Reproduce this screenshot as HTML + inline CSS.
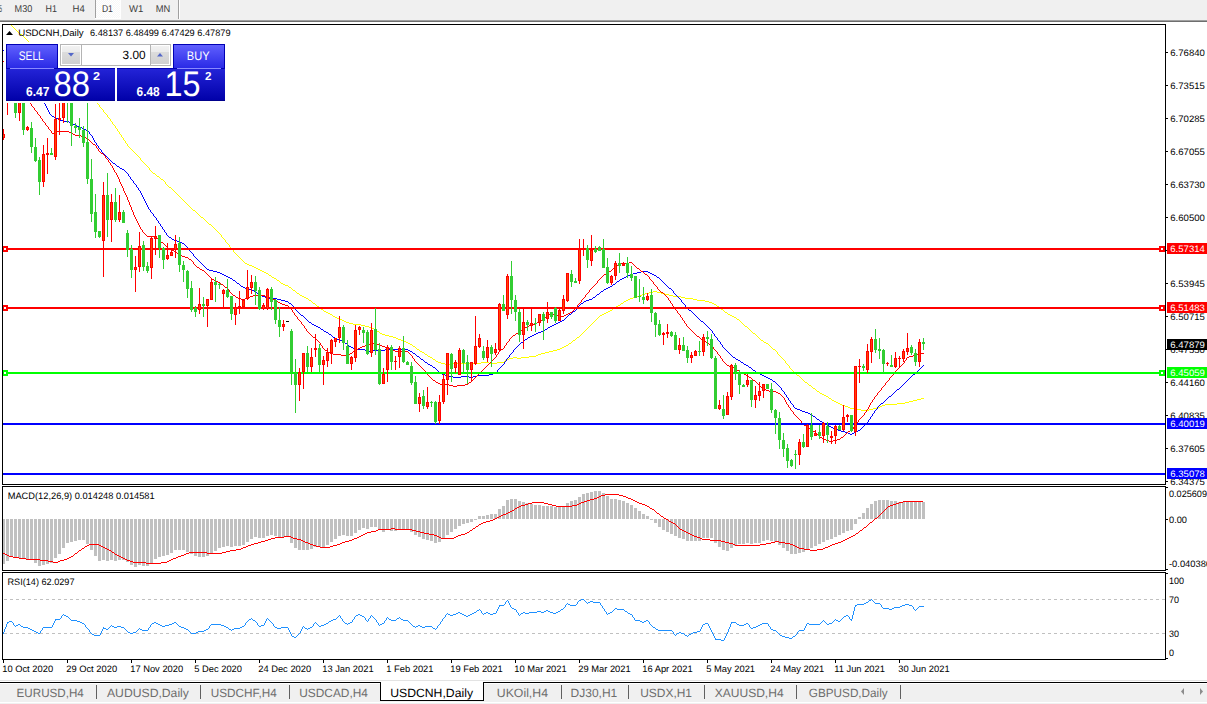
<!DOCTYPE html>
<html><head><meta charset="utf-8"><title>USDCNH,Daily</title>
<style>
html,body{margin:0;padding:0;width:1207px;height:704px;overflow:hidden;background:#fff;}
svg{display:block;font-family:"Liberation Sans",sans-serif;}
text{shape-rendering:auto;text-rendering:geometricPrecision;}
</style></head><body>
<svg width="1207" height="704" viewBox="0 0 1207 704" shape-rendering="crispEdges" font-family="Liberation Sans, sans-serif">
<defs><clipPath id="cm"><rect x="3" y="25" width="1162" height="459"/></clipPath><clipPath id="cmacd"><rect x="3" y="487" width="1162" height="83"/></clipPath><clipPath id="crsi"><rect x="3" y="573" width="1162" height="86"/></clipPath><linearGradient id="gtop" x1="0" y1="0" x2="0" y2="1"><stop offset="0" stop-color="#6262ff"/><stop offset="1" stop-color="#2a2ae6"/></linearGradient><linearGradient id="gbot" x1="0" y1="0" x2="0" y2="1"><stop offset="0" stop-color="#2424d8"/><stop offset="1" stop-color="#0000a8"/></linearGradient><linearGradient id="gbtn" x1="0" y1="0" x2="0" y2="1"><stop offset="0" stop-color="#f2f2f2"/><stop offset="0.33" stop-color="#ebebeb"/><stop offset="0.36" stop-color="#dcdcdc"/><stop offset="1" stop-color="#d0d0d0"/></linearGradient><pattern id="dith" width="2" height="2" patternUnits="userSpaceOnUse"><rect width="2" height="2" fill="#f7f7f7"/><rect width="1" height="1" fill="#ffffff"/><rect x="1" y="1" width="1" height="1" fill="#ffffff"/></pattern></defs>
<rect x="0" y="0" width="1207" height="704" fill="#ffffff"/>
<rect x="0" y="0" width="1207" height="20" fill="#f0f0f0"/>
<rect x="0" y="20" width="1207" height="1" fill="#a0a0a0"/>
<rect x="0" y="21" width="1207" height="1" fill="#6e6e6e"/>
<rect x="96" y="0" width="24" height="18" fill="url(#dith)"/>
<rect x="95" y="0" width="1" height="18" fill="#a0a0a0"/>
<rect x="95" y="18" width="26" height="1" fill="#ffffff"/>
<rect x="120" y="0" width="1" height="18" fill="#ffffff"/>
<rect x="178" y="0" width="1" height="19" fill="#a0a0a0"/>
<rect x="179" y="0" width="1" height="19" fill="#ffffff"/>
<text x="-1.0" y="12" font-size="10" fill="#3c3c3c" textLength="3.0" lengthAdjust="spacingAndGlyphs">5</text>
<text x="14.6" y="12" font-size="10" fill="#3c3c3c" textLength="17.7" lengthAdjust="spacingAndGlyphs">M30</text>
<text x="45.6" y="12" font-size="10" fill="#3c3c3c" textLength="11.4" lengthAdjust="spacingAndGlyphs">H1</text>
<text x="72.6" y="12" font-size="10" fill="#3c3c3c" textLength="12.2" lengthAdjust="spacingAndGlyphs">H4</text>
<text x="101.9" y="12" font-size="10" fill="#3c3c3c" textLength="11.0" lengthAdjust="spacingAndGlyphs">D1</text>
<text x="129.0" y="12" font-size="10" fill="#3c3c3c" textLength="14.3" lengthAdjust="spacingAndGlyphs">W1</text>
<text x="155.8" y="12" font-size="10" fill="#3c3c3c" textLength="14.5" lengthAdjust="spacingAndGlyphs">MN</text>
<path fill="#ffff00" d="M11 25h1v1h-1zM12 26h1v1h-1zM13 27h1v1h-1zM14 28h1v1h-1zM15 29h1v1h-1zM16 30h1v1h-1zM17 31h1v1h-1zM18 32h1v1h-1zM19 33h1v1h-1zM20 34h2v1h-2zM22 35h1v1h-1zM23 36h1v1h-1zM24 37h1v1h-1zM25 38h1v1h-1zM26 39h1v1h-1zM27 40h1v1h-1zM28 41h1v1h-1zM29 42h1v1h-1zM30 43h1v1h-1zM31 44h1v1h-1zM32 45h1v1h-1zM33 46h1v1h-1zM34 47h2v1h-2zM36 48h1v1h-1zM37 49h1v1h-1zM38 50h1v1h-1zM39 51h1v1h-1zM40 52h1v1h-1zM41 53h1v1h-1zM42 54h1v1h-1zM43 55h1v1h-1zM44 56h2v1h-2zM46 57h1v1h-1zM47 58h1v1h-1zM48 59h1v1h-1zM49 60h1v1h-1zM50 61h1v1h-1zM51 62h1v1h-1zM52 63h1v1h-1zM53 64h1v1h-1zM54 65h2v1h-2zM56 66h1v1h-1zM57 67h1v1h-1zM58 68h1v1h-1zM59 69h1v1h-1zM60 70h1v1h-1zM61 71h1v1h-1zM62 72h1v1h-1zM63 73h1v1h-1zM64 74h2v1h-2zM66 75h1v1h-1zM67 76h1v1h-1zM68 77h1v1h-1zM69 78h1v1h-1zM70 79h1v1h-1zM71 80h1v1h-1zM72 81h1v1h-1zM73 82h2v1h-2zM75 83h1v1h-1zM76 84h1v1h-1zM77 85h1v1h-1zM78 86h1v1h-1zM79 87h1v1h-1zM80 88h1v1h-1zM81 89h1v1h-1zM82 90h1v1h-1zM83 91h2v1h-2zM85 92h1v1h-1zM86 93h1v1h-1zM87 94h1v1h-1zM88 95h1v1h-1zM89 96h1v1h-1zM90 97h1v1h-1zM91 98h1v1h-1zM92 99h2v1h-2zM94 100h1v1h-1zM95 101h1v1h-1zM96 102h1v1h-1zM97 103h1v1h-1zM98 104h1v1h-1zM99 105h1v1h-1zM99 106h1v1h-1zM100 107h1v1h-1zM101 108h1v1h-1zM102 109h1v1h-1zM103 110h1v1h-1zM103 111h1v1h-1zM104 112h1v1h-1zM105 113h1v1h-1zM106 114h1v1h-1zM107 115h1v1h-1zM107 116h1v1h-1zM108 117h1v1h-1zM109 118h1v1h-1zM110 119h1v1h-1zM110 120h1v1h-1zM111 121h1v1h-1zM112 122h1v1h-1zM112 123h1v1h-1zM113 124h1v1h-1zM114 125h1v1h-1zM115 126h1v1h-1zM115 127h1v1h-1zM116 128h1v1h-1zM117 129h1v1h-1zM117 130h1v1h-1zM118 131h1v1h-1zM119 132h1v1h-1zM119 133h1v1h-1zM120 134h1v1h-1zM121 135h1v1h-1zM121 136h1v1h-1zM122 137h1v1h-1zM123 138h1v1h-1zM123 139h1v1h-1zM124 140h1v1h-1zM125 141h1v1h-1zM125 142h1v1h-1zM126 143h1v1h-1zM127 144h1v1h-1zM127 145h1v1h-1zM128 146h1v1h-1zM129 147h1v1h-1zM130 148h1v1h-1zM131 149h1v1h-1zM132 150h1v1h-1zM133 151h1v1h-1zM134 152h1v1h-1zM135 153h1v1h-1zM136 154h1v1h-1zM137 155h1v1h-1zM138 156h1v1h-1zM139 157h1v1h-1zM140 158h1v1h-1zM140 159h1v1h-1zM141 160h1v1h-1zM142 161h1v1h-1zM143 162h1v1h-1zM144 163h1v1h-1zM145 164h1v1h-1zM146 165h1v1h-1zM147 166h1v1h-1zM148 167h1v1h-1zM149 168h1v1h-1zM149 169h1v1h-1zM150 170h1v1h-1zM151 171h1v1h-1zM152 172h1v1h-1zM153 173h2v1h-2zM155 174h1v1h-1zM156 175h1v1h-1zM157 176h2v1h-2zM159 177h1v1h-1zM160 178h1v1h-1zM161 179h2v1h-2zM163 180h1v1h-1zM164 181h1v1h-1zM165 182h1v1h-1zM165 183h1v1h-1zM166 184h1v1h-1zM167 185h1v1h-1zM168 186h1v1h-1zM169 187h2v1h-2zM171 188h1v1h-1zM172 189h1v1h-1zM173 190h1v1h-1zM174 191h1v1h-1zM175 192h1v1h-1zM176 193h1v1h-1zM177 194h1v1h-1zM178 195h1v1h-1zM179 196h1v1h-1zM180 197h1v1h-1zM181 198h1v1h-1zM182 199h1v1h-1zM183 200h1v1h-1zM184 201h1v1h-1zM185 202h1v1h-1zM186 203h1v1h-1zM187 204h1v1h-1zM188 205h1v1h-1zM189 206h1v1h-1zM190 207h1v1h-1zM191 208h1v1h-1zM192 209h1v1h-1zM193 210h2v1h-2zM195 211h1v1h-1zM196 212h1v1h-1zM197 213h1v1h-1zM198 214h1v1h-1zM199 215h1v1h-1zM200 216h1v1h-1zM201 217h2v1h-2zM203 218h1v1h-1zM204 219h1v1h-1zM205 220h1v1h-1zM206 221h1v1h-1zM207 222h1v1h-1zM208 223h1v1h-1zM209 224h2v1h-2zM211 225h1v1h-1zM212 226h1v1h-1zM213 227h1v1h-1zM214 228h1v1h-1zM215 229h1v1h-1zM216 230h1v1h-1zM217 231h1v1h-1zM218 232h1v1h-1zM219 233h1v1h-1zM220 234h1v1h-1zM221 235h1v1h-1zM221 236h1v1h-1zM222 237h1v1h-1zM223 238h1v1h-1zM224 239h1v1h-1zM225 240h1v1h-1zM225 241h1v1h-1zM226 242h1v1h-1zM227 243h1v1h-1zM228 244h1v1h-1zM229 245h1v1h-1zM229 246h1v1h-1zM230 247h1v1h-1zM231 248h1v1h-1zM232 249h1v1h-1zM233 250h1v1h-1zM233 251h1v1h-1zM234 252h1v1h-1zM235 253h1v1h-1zM236 254h1v1h-1zM237 255h1v1h-1zM238 256h1v1h-1zM239 257h1v1h-1zM240 258h1v1h-1zM241 259h1v1h-1zM242 260h1v1h-1zM243 261h1v1h-1zM244 262h1v1h-1zM245 263h2v1h-2zM247 264h2v1h-2zM249 265h3v1h-3zM252 266h2v1h-2zM254 267h2v1h-2zM256 268h2v1h-2zM258 269h2v1h-2zM260 270h2v1h-2zM262 271h2v1h-2zM264 272h2v1h-2zM266 273h2v1h-2zM268 274h1v1h-1zM269 275h2v1h-2zM271 276h1v1h-1zM272 277h2v1h-2zM274 278h2v1h-2zM276 279h1v1h-1zM277 280h2v1h-2zM279 281h1v1h-1zM280 282h1v1h-1zM281 283h2v1h-2zM283 284h2v1h-2zM285 285h3v1h-3zM288 286h1v1h-1zM289 287h2v1h-2zM291 288h1v1h-1zM292 289h1v1h-1zM293 290h2v1h-2zM295 291h1v1h-1zM653 291h4v1h-4zM296 292h1v1h-1zM649 292h4v1h-4zM657 292h4v1h-4zM297 293h2v1h-2zM645 293h4v1h-4zM661 293h4v1h-4zM299 294h1v1h-1zM642 294h3v1h-3zM665 294h4v1h-4zM300 295h2v1h-2zM640 295h2v1h-2zM669 295h4v1h-4zM302 296h2v1h-2zM637 296h3v1h-3zM673 296h8v1h-8zM304 297h2v1h-2zM633 297h4v1h-4zM681 297h4v1h-4zM306 298h2v1h-2zM630 298h3v1h-3zM685 298h8v1h-8zM308 299h1v1h-1zM628 299h2v1h-2zM693 299h4v1h-4zM309 300h2v1h-2zM626 300h2v1h-2zM697 300h8v1h-8zM311 301h1v1h-1zM624 301h2v1h-2zM705 301h4v1h-4zM312 302h1v1h-1zM623 302h1v1h-1zM709 302h3v1h-3zM313 303h2v1h-2zM621 303h2v1h-2zM712 303h2v1h-2zM315 304h1v1h-1zM620 304h1v1h-1zM714 304h2v1h-2zM316 305h1v1h-1zM618 305h2v1h-2zM716 305h1v1h-1zM317 306h2v1h-2zM616 306h2v1h-2zM717 306h2v1h-2zM319 307h1v1h-1zM615 307h1v1h-1zM719 307h1v1h-1zM320 308h1v1h-1zM613 308h2v1h-2zM720 308h1v1h-1zM321 309h2v1h-2zM612 309h1v1h-1zM721 309h2v1h-2zM323 310h1v1h-1zM610 310h2v1h-2zM723 310h1v1h-1zM324 311h2v1h-2zM608 311h2v1h-2zM724 311h1v1h-1zM326 312h2v1h-2zM606 312h2v1h-2zM725 312h2v1h-2zM328 313h2v1h-2zM604 313h2v1h-2zM727 313h1v1h-1zM330 314h2v1h-2zM602 314h2v1h-2zM728 314h2v1h-2zM332 315h1v1h-1zM600 315h2v1h-2zM730 315h2v1h-2zM333 316h2v1h-2zM599 316h1v1h-1zM732 316h2v1h-2zM335 317h2v1h-2zM598 317h1v1h-1zM734 317h2v1h-2zM337 318h3v1h-3zM597 318h1v1h-1zM736 318h1v1h-1zM340 319h2v1h-2zM596 319h1v1h-1zM737 319h2v1h-2zM342 320h2v1h-2zM595 320h1v1h-1zM739 320h1v1h-1zM344 321h2v1h-2zM594 321h1v1h-1zM740 321h1v1h-1zM346 322h3v1h-3zM593 322h1v1h-1zM741 322h1v1h-1zM349 323h4v1h-4zM592 323h1v1h-1zM742 323h1v1h-1zM353 324h8v1h-8zM591 324h1v1h-1zM743 324h1v1h-1zM361 325h4v1h-4zM590 325h1v1h-1zM744 325h1v1h-1zM365 326h4v1h-4zM589 326h1v1h-1zM745 326h2v1h-2zM369 327h3v1h-3zM588 327h1v1h-1zM747 327h1v1h-1zM372 328h2v1h-2zM587 328h1v1h-1zM748 328h1v1h-1zM374 329h2v1h-2zM586 329h1v1h-1zM749 329h1v1h-1zM376 330h1v1h-1zM585 330h1v1h-1zM750 330h1v1h-1zM377 331h2v1h-2zM584 331h1v1h-1zM751 331h1v1h-1zM379 332h1v1h-1zM583 332h1v1h-1zM752 332h1v1h-1zM380 333h2v1h-2zM582 333h1v1h-1zM753 333h2v1h-2zM382 334h3v1h-3zM581 334h1v1h-1zM755 334h1v1h-1zM385 335h4v1h-4zM580 335h1v1h-1zM756 335h1v1h-1zM389 336h4v1h-4zM579 336h1v1h-1zM757 336h1v1h-1zM393 337h3v1h-3zM577 337h2v1h-2zM758 337h1v1h-1zM396 338h2v1h-2zM576 338h1v1h-1zM759 338h1v1h-1zM398 339h3v1h-3zM575 339h1v1h-1zM760 339h1v1h-1zM401 340h3v1h-3zM573 340h2v1h-2zM761 340h2v1h-2zM404 341h2v1h-2zM572 341h1v1h-1zM763 341h1v1h-1zM406 342h2v1h-2zM571 342h1v1h-1zM764 342h2v1h-2zM408 343h2v1h-2zM569 343h2v1h-2zM766 343h2v1h-2zM410 344h2v1h-2zM568 344h1v1h-1zM768 344h1v1h-1zM412 345h1v1h-1zM566 345h2v1h-2zM769 345h1v1h-1zM413 346h2v1h-2zM564 346h2v1h-2zM770 346h1v1h-1zM415 347h1v1h-1zM562 347h2v1h-2zM771 347h1v1h-1zM416 348h1v1h-1zM560 348h2v1h-2zM772 348h1v1h-1zM417 349h2v1h-2zM557 349h3v1h-3zM773 349h2v1h-2zM419 350h1v1h-1zM553 350h4v1h-4zM775 350h1v1h-1zM420 351h2v1h-2zM549 351h4v1h-4zM776 351h1v1h-1zM422 352h2v1h-2zM545 352h4v1h-4zM777 352h1v1h-1zM424 353h1v1h-1zM541 353h4v1h-4zM777 353h1v1h-1zM425 354h2v1h-2zM538 354h3v1h-3zM778 354h1v1h-1zM427 355h1v1h-1zM536 355h2v1h-2zM779 355h1v1h-1zM428 356h2v1h-2zM529 356h7v1h-7zM780 356h1v1h-1zM430 357h2v1h-2zM513 357h4v1h-4zM521 357h8v1h-8zM781 357h1v1h-1zM432 358h1v1h-1zM509 358h4v1h-4zM517 358h4v1h-4zM782 358h1v1h-1zM433 359h2v1h-2zM507 359h2v1h-2zM783 359h1v1h-1zM435 360h1v1h-1zM505 360h2v1h-2zM784 360h1v1h-1zM436 361h2v1h-2zM504 361h1v1h-1zM785 361h1v1h-1zM438 362h3v1h-3zM481 362h8v1h-8zM497 362h7v1h-7zM785 362h1v1h-1zM441 363h4v1h-4zM453 363h28v1h-28zM489 363h8v1h-8zM786 363h1v1h-1zM445 364h8v1h-8zM787 364h1v1h-1zM788 365h1v1h-1zM789 366h1v1h-1zM789 367h1v1h-1zM790 368h1v1h-1zM791 369h1v1h-1zM792 370h1v1h-1zM793 371h1v1h-1zM794 372h1v1h-1zM795 373h1v1h-1zM796 374h1v1h-1zM797 375h2v1h-2zM799 376h1v1h-1zM800 377h1v1h-1zM801 378h1v1h-1zM802 379h1v1h-1zM803 380h1v1h-1zM804 381h1v1h-1zM805 382h2v1h-2zM807 383h1v1h-1zM808 384h1v1h-1zM809 385h2v1h-2zM811 386h1v1h-1zM812 387h1v1h-1zM813 388h2v1h-2zM815 389h1v1h-1zM816 390h1v1h-1zM817 391h2v1h-2zM819 392h1v1h-1zM820 393h2v1h-2zM822 394h2v1h-2zM824 395h2v1h-2zM826 396h2v1h-2zM828 397h1v1h-1zM829 398h2v1h-2zM921 398h3v1h-3zM831 399h1v1h-1zM917 399h4v1h-4zM832 400h2v1h-2zM913 400h4v1h-4zM834 401h2v1h-2zM909 401h4v1h-4zM836 402h2v1h-2zM905 402h4v1h-4zM838 403h2v1h-2zM897 403h8v1h-8zM840 404h2v1h-2zM885 404h12v1h-12zM842 405h3v1h-3zM882 405h3v1h-3zM845 406h3v1h-3zM880 406h2v1h-2zM848 407h2v1h-2zM877 407h3v1h-3zM850 408h7v1h-7zM873 408h4v1h-4zM857 409h4v1h-4zM869 409h4v1h-4zM861 410h8v1h-8z"/>
<path fill="#0000ff" d="M3 50h1v1h-1zM4 51h1v1h-1zM5 52h1v1h-1zM5 53h1v1h-1zM6 54h1v1h-1zM7 55h1v1h-1zM8 56h1v1h-1zM8 57h1v1h-1zM9 58h1v1h-1zM10 59h1v1h-1zM11 60h1v1h-1zM12 61h1v1h-1zM12 62h1v1h-1zM13 63h1v1h-1zM14 64h1v1h-1zM15 65h1v1h-1zM15 66h1v1h-1zM16 67h1v1h-1zM17 68h1v1h-1zM18 69h1v1h-1zM18 70h1v1h-1zM19 71h1v1h-1zM20 72h1v1h-1zM21 73h1v1h-1zM22 74h1v1h-1zM22 75h1v1h-1zM23 76h1v1h-1zM24 77h1v1h-1zM25 78h1v1h-1zM25 79h1v1h-1zM26 80h1v1h-1zM27 81h1v1h-1zM28 82h1v1h-1zM29 83h1v1h-1zM29 84h1v1h-1zM30 85h1v1h-1zM31 86h1v1h-1zM32 87h1v1h-1zM32 88h1v1h-1zM33 89h1v1h-1zM34 90h1v1h-1zM35 91h1v1h-1zM35 92h1v1h-1zM36 93h1v1h-1zM37 94h1v1h-1zM38 95h1v1h-1zM39 96h1v1h-1zM39 97h1v1h-1zM40 98h1v1h-1zM41 99h1v1h-1zM42 100h1v1h-1zM42 101h1v1h-1zM43 102h1v1h-1zM44 103h1v1h-1zM45 104h1v1h-1zM45 105h1v1h-1zM46 106h1v1h-1zM46 107h1v1h-1zM47 108h1v1h-1zM47 109h1v1h-1zM48 110h1v1h-1zM48 111h1v1h-1zM49 112h1v1h-1zM49 113h1v1h-1zM50 114h1v1h-1zM51 115h1v1h-1zM52 116h2v1h-2zM54 117h2v1h-2zM56 118h2v1h-2zM58 119h2v1h-2zM60 120h4v1h-4zM64 121h5v1h-5zM69 122h2v1h-2zM71 123h2v1h-2zM73 124h2v1h-2zM75 125h2v1h-2zM77 126h3v1h-3zM80 127h2v1h-2zM82 128h2v1h-2zM84 129h2v1h-2zM86 130h2v1h-2zM88 131h1v1h-1zM89 132h1v1h-1zM89 133h1v1h-1zM90 134h1v1h-1zM91 135h1v1h-1zM92 136h1v1h-1zM92 137h1v1h-1zM93 138h1v1h-1zM93 139h1v1h-1zM94 140h1v1h-1zM94 141h1v1h-1zM95 142h1v1h-1zM96 143h1v1h-1zM96 144h1v1h-1zM97 145h1v1h-1zM98 146h1v1h-1zM98 147h1v1h-1zM99 148h1v1h-1zM100 149h1v1h-1zM101 150h1v1h-1zM101 151h1v1h-1zM102 152h1v1h-1zM103 153h1v1h-1zM104 154h1v1h-1zM105 155h1v1h-1zM106 156h1v1h-1zM107 157h1v1h-1zM108 158h1v1h-1zM109 159h1v1h-1zM110 160h1v1h-1zM111 161h1v1h-1zM112 162h1v1h-1zM113 163h2v1h-2zM115 164h1v1h-1zM116 165h1v1h-1zM117 166h2v1h-2zM119 167h1v1h-1zM120 168h2v1h-2zM122 169h2v1h-2zM124 170h1v1h-1zM125 171h1v1h-1zM126 172h1v1h-1zM127 173h1v1h-1zM128 174h1v1h-1zM128 175h1v1h-1zM129 176h1v1h-1zM130 177h1v1h-1zM130 178h1v1h-1zM131 179h1v1h-1zM132 180h1v1h-1zM133 181h1v1h-1zM133 182h1v1h-1zM134 183h1v1h-1zM135 184h1v1h-1zM136 185h1v1h-1zM136 186h1v1h-1zM137 187h1v1h-1zM138 188h1v1h-1zM138 189h1v1h-1zM139 190h1v1h-1zM140 191h1v1h-1zM140 192h1v1h-1zM141 193h1v1h-1zM141 194h1v1h-1zM142 195h1v1h-1zM142 196h1v1h-1zM143 197h1v1h-1zM143 198h1v1h-1zM144 199h1v1h-1zM144 200h1v1h-1zM145 201h1v1h-1zM145 202h1v1h-1zM146 203h1v1h-1zM146 204h1v1h-1zM147 205h1v1h-1zM147 206h1v1h-1zM148 207h1v1h-1zM148 208h1v1h-1zM149 209h1v1h-1zM150 210h1v1h-1zM150 211h1v1h-1zM151 212h1v1h-1zM152 213h1v1h-1zM153 214h1v1h-1zM153 215h1v1h-1zM154 216h1v1h-1zM155 217h1v1h-1zM156 218h1v1h-1zM156 219h1v1h-1zM157 220h1v1h-1zM158 221h1v1h-1zM158 222h1v1h-1zM159 223h1v1h-1zM160 224h1v1h-1zM160 225h1v1h-1zM161 226h1v1h-1zM162 227h1v1h-1zM162 228h1v1h-1zM163 229h1v1h-1zM164 230h1v1h-1zM164 231h1v1h-1zM165 232h1v1h-1zM166 233h1v1h-1zM166 234h1v1h-1zM167 235h1v1h-1zM168 236h1v1h-1zM169 237h2v1h-2zM171 238h1v1h-1zM172 239h2v1h-2zM174 240h3v1h-3zM177 241h3v1h-3zM180 242h2v1h-2zM182 243h2v1h-2zM184 244h1v1h-1zM185 245h1v1h-1zM186 246h1v1h-1zM187 247h1v1h-1zM188 248h1v1h-1zM189 249h1v1h-1zM189 250h1v1h-1zM190 251h1v1h-1zM191 252h1v1h-1zM192 253h1v1h-1zM193 254h1v1h-1zM193 255h1v1h-1zM194 256h1v1h-1zM195 257h1v1h-1zM196 258h1v1h-1zM197 259h1v1h-1zM198 260h1v1h-1zM199 261h1v1h-1zM200 262h1v1h-1zM201 263h1v1h-1zM202 264h1v1h-1zM203 265h1v1h-1zM204 266h1v1h-1zM205 267h1v1h-1zM206 268h1v1h-1zM207 269h2v1h-2zM209 270h4v1h-4zM213 271h4v1h-4zM641 271h7v1h-7zM217 272h3v1h-3zM637 272h4v1h-4zM648 272h2v1h-2zM220 273h2v1h-2zM633 273h4v1h-4zM650 273h2v1h-2zM222 274h2v1h-2zM630 274h3v1h-3zM652 274h2v1h-2zM224 275h2v1h-2zM628 275h2v1h-2zM654 275h2v1h-2zM226 276h2v1h-2zM626 276h2v1h-2zM656 276h1v1h-1zM228 277h2v1h-2zM624 277h2v1h-2zM657 277h2v1h-2zM230 278h2v1h-2zM622 278h2v1h-2zM659 278h1v1h-1zM232 279h1v1h-1zM620 279h2v1h-2zM660 279h1v1h-1zM233 280h2v1h-2zM619 280h1v1h-1zM661 280h1v1h-1zM235 281h1v1h-1zM617 281h2v1h-2zM662 281h1v1h-1zM236 282h1v1h-1zM616 282h1v1h-1zM663 282h1v1h-1zM237 283h2v1h-2zM615 283h1v1h-1zM664 283h1v1h-1zM239 284h1v1h-1zM613 284h2v1h-2zM665 284h1v1h-1zM240 285h1v1h-1zM612 285h1v1h-1zM666 285h1v1h-1zM241 286h2v1h-2zM610 286h2v1h-2zM667 286h1v1h-1zM243 287h2v1h-2zM608 287h2v1h-2zM668 287h1v1h-1zM245 288h4v1h-4zM606 288h2v1h-2zM669 288h2v1h-2zM249 289h3v1h-3zM604 289h2v1h-2zM671 289h1v1h-1zM252 290h2v1h-2zM603 290h1v1h-1zM672 290h1v1h-1zM254 291h2v1h-2zM601 291h2v1h-2zM673 291h1v1h-1zM256 292h1v1h-1zM600 292h1v1h-1zM673 292h1v1h-1zM257 293h2v1h-2zM599 293h1v1h-1zM674 293h1v1h-1zM259 294h1v1h-1zM597 294h2v1h-2zM675 294h1v1h-1zM260 295h2v1h-2zM596 295h1v1h-1zM676 295h1v1h-1zM262 296h3v1h-3zM595 296h1v1h-1zM677 296h1v1h-1zM265 297h4v1h-4zM593 297h2v1h-2zM678 297h1v1h-1zM269 298h8v1h-8zM592 298h1v1h-1zM679 298h1v1h-1zM277 299h4v1h-4zM589 299h3v1h-3zM680 299h1v1h-1zM281 300h4v1h-4zM586 300h3v1h-3zM681 300h1v1h-1zM285 301h3v1h-3zM584 301h2v1h-2zM681 301h1v1h-1zM288 302h1v1h-1zM583 302h1v1h-1zM682 302h1v1h-1zM289 303h2v1h-2zM581 303h2v1h-2zM683 303h1v1h-1zM291 304h1v1h-1zM580 304h1v1h-1zM684 304h1v1h-1zM292 305h1v1h-1zM579 305h1v1h-1zM685 305h1v1h-1zM293 306h1v1h-1zM578 306h1v1h-1zM685 306h1v1h-1zM293 307h1v1h-1zM577 307h1v1h-1zM686 307h1v1h-1zM294 308h1v1h-1zM577 308h1v1h-1zM687 308h1v1h-1zM295 309h1v1h-1zM576 309h1v1h-1zM688 309h1v1h-1zM296 310h1v1h-1zM575 310h1v1h-1zM689 310h2v1h-2zM297 311h1v1h-1zM573 311h2v1h-2zM691 311h1v1h-1zM298 312h1v1h-1zM572 312h1v1h-1zM692 312h1v1h-1zM299 313h1v1h-1zM571 313h1v1h-1zM693 313h1v1h-1zM300 314h1v1h-1zM569 314h2v1h-2zM694 314h1v1h-1zM301 315h2v1h-2zM568 315h1v1h-1zM695 315h1v1h-1zM303 316h1v1h-1zM567 316h1v1h-1zM696 316h1v1h-1zM304 317h1v1h-1zM566 317h1v1h-1zM697 317h1v1h-1zM305 318h1v1h-1zM565 318h1v1h-1zM698 318h1v1h-1zM306 319h1v1h-1zM564 319h1v1h-1zM699 319h1v1h-1zM307 320h1v1h-1zM562 320h2v1h-2zM700 320h1v1h-1zM308 321h1v1h-1zM560 321h2v1h-2zM701 321h2v1h-2zM309 322h2v1h-2zM558 322h2v1h-2zM703 322h1v1h-1zM311 323h1v1h-1zM556 323h2v1h-2zM704 323h1v1h-1zM312 324h2v1h-2zM554 324h2v1h-2zM705 324h1v1h-1zM314 325h2v1h-2zM552 325h2v1h-2zM706 325h1v1h-1zM316 326h2v1h-2zM550 326h2v1h-2zM707 326h1v1h-1zM318 327h2v1h-2zM548 327h2v1h-2zM708 327h1v1h-1zM320 328h1v1h-1zM547 328h1v1h-1zM709 328h1v1h-1zM321 329h2v1h-2zM545 329h2v1h-2zM710 329h1v1h-1zM323 330h1v1h-1zM544 330h1v1h-1zM711 330h1v1h-1zM324 331h2v1h-2zM541 331h3v1h-3zM712 331h1v1h-1zM326 332h2v1h-2zM538 332h3v1h-3zM712 332h1v1h-1zM328 333h1v1h-1zM536 333h2v1h-2zM713 333h1v1h-1zM329 334h2v1h-2zM534 334h2v1h-2zM714 334h1v1h-1zM331 335h1v1h-1zM532 335h2v1h-2zM714 335h1v1h-1zM332 336h1v1h-1zM530 336h2v1h-2zM715 336h1v1h-1zM333 337h2v1h-2zM528 337h2v1h-2zM716 337h1v1h-1zM335 338h2v1h-2zM527 338h1v1h-1zM717 338h1v1h-1zM337 339h3v1h-3zM525 339h2v1h-2zM717 339h1v1h-1zM340 340h2v1h-2zM524 340h1v1h-1zM718 340h1v1h-1zM342 341h2v1h-2zM523 341h1v1h-1zM719 341h1v1h-1zM344 342h1v1h-1zM521 342h2v1h-2zM720 342h1v1h-1zM345 343h2v1h-2zM520 343h1v1h-1zM720 343h1v1h-1zM347 344h1v1h-1zM519 344h1v1h-1zM721 344h1v1h-1zM348 345h1v1h-1zM518 345h1v1h-1zM722 345h1v1h-1zM349 346h2v1h-2zM517 346h1v1h-1zM722 346h1v1h-1zM351 347h2v1h-2zM516 347h1v1h-1zM723 347h1v1h-1zM353 348h4v1h-4zM515 348h1v1h-1zM724 348h1v1h-1zM357 349h8v1h-8zM385 349h23v1h-23zM514 349h1v1h-1zM725 349h1v1h-1zM365 350h4v1h-4zM373 350h12v1h-12zM408 350h2v1h-2zM513 350h1v1h-1zM726 350h1v1h-1zM369 351h4v1h-4zM410 351h2v1h-2zM513 351h1v1h-1zM727 351h1v1h-1zM412 352h1v1h-1zM512 352h1v1h-1zM728 352h1v1h-1zM413 353h2v1h-2zM511 353h1v1h-1zM729 353h1v1h-1zM415 354h1v1h-1zM510 354h1v1h-1zM730 354h1v1h-1zM416 355h1v1h-1zM509 355h1v1h-1zM731 355h1v1h-1zM417 356h2v1h-2zM509 356h1v1h-1zM732 356h1v1h-1zM419 357h1v1h-1zM508 357h1v1h-1zM733 357h2v1h-2zM420 358h1v1h-1zM507 358h1v1h-1zM735 358h1v1h-1zM421 359h2v1h-2zM506 359h1v1h-1zM736 359h2v1h-2zM423 360h1v1h-1zM506 360h1v1h-1zM738 360h2v1h-2zM424 361h1v1h-1zM505 361h1v1h-1zM740 361h1v1h-1zM425 362h2v1h-2zM504 362h1v1h-1zM741 362h2v1h-2zM427 363h1v1h-1zM504 363h1v1h-1zM743 363h1v1h-1zM428 364h2v1h-2zM503 364h1v1h-1zM744 364h2v1h-2zM430 365h2v1h-2zM502 365h1v1h-1zM746 365h2v1h-2zM923 365h1v1h-1zM432 366h1v1h-1zM501 366h1v1h-1zM748 366h1v1h-1zM922 366h1v1h-1zM433 367h2v1h-2zM500 367h1v1h-1zM749 367h2v1h-2zM921 367h1v1h-1zM435 368h1v1h-1zM499 368h1v1h-1zM751 368h1v1h-1zM920 368h1v1h-1zM436 369h1v1h-1zM498 369h1v1h-1zM752 369h1v1h-1zM919 369h1v1h-1zM437 370h1v1h-1zM497 370h1v1h-1zM753 370h2v1h-2zM918 370h1v1h-1zM438 371h1v1h-1zM497 371h1v1h-1zM755 371h1v1h-1zM917 371h1v1h-1zM439 372h1v1h-1zM496 372h1v1h-1zM756 372h2v1h-2zM916 372h1v1h-1zM440 373h2v1h-2zM493 373h3v1h-3zM758 373h2v1h-2zM915 373h1v1h-1zM442 374h3v1h-3zM489 374h4v1h-4zM760 374h2v1h-2zM913 374h2v1h-2zM445 375h4v1h-4zM477 375h12v1h-12zM762 375h2v1h-2zM912 375h1v1h-1zM449 376h4v1h-4zM461 376h8v1h-8zM473 376h4v1h-4zM764 376h2v1h-2zM911 376h1v1h-1zM453 377h8v1h-8zM469 377h4v1h-4zM766 377h2v1h-2zM910 377h1v1h-1zM768 378h2v1h-2zM909 378h1v1h-1zM770 379h2v1h-2zM908 379h1v1h-1zM772 380h1v1h-1zM907 380h1v1h-1zM773 381h2v1h-2zM906 381h1v1h-1zM775 382h1v1h-1zM905 382h1v1h-1zM776 383h1v1h-1zM904 383h1v1h-1zM777 384h1v1h-1zM903 384h1v1h-1zM778 385h1v1h-1zM902 385h1v1h-1zM779 386h1v1h-1zM901 386h1v1h-1zM780 387h1v1h-1zM900 387h1v1h-1zM781 388h1v1h-1zM899 388h1v1h-1zM781 389h1v1h-1zM897 389h2v1h-2zM782 390h1v1h-1zM896 390h1v1h-1zM783 391h1v1h-1zM895 391h1v1h-1zM784 392h1v1h-1zM894 392h1v1h-1zM784 393h1v1h-1zM893 393h1v1h-1zM785 394h1v1h-1zM892 394h1v1h-1zM786 395h1v1h-1zM891 395h1v1h-1zM786 396h1v1h-1zM889 396h2v1h-2zM787 397h1v1h-1zM888 397h1v1h-1zM788 398h1v1h-1zM887 398h1v1h-1zM788 399h1v1h-1zM886 399h1v1h-1zM789 400h1v1h-1zM885 400h1v1h-1zM790 401h1v1h-1zM884 401h1v1h-1zM790 402h1v1h-1zM883 402h1v1h-1zM791 403h1v1h-1zM881 403h2v1h-2zM792 404h1v1h-1zM880 404h1v1h-1zM793 405h1v1h-1zM879 405h1v1h-1zM793 406h1v1h-1zM878 406h1v1h-1zM794 407h1v1h-1zM877 407h1v1h-1zM795 408h2v1h-2zM877 408h1v1h-1zM797 409h3v1h-3zM876 409h1v1h-1zM800 410h2v1h-2zM875 410h1v1h-1zM802 411h3v1h-3zM874 411h1v1h-1zM805 412h3v1h-3zM874 412h1v1h-1zM808 413h2v1h-2zM873 413h1v1h-1zM810 414h2v1h-2zM872 414h1v1h-1zM812 415h1v1h-1zM872 415h1v1h-1zM813 416h2v1h-2zM871 416h1v1h-1zM815 417h1v1h-1zM870 417h1v1h-1zM816 418h1v1h-1zM870 418h1v1h-1zM817 419h2v1h-2zM869 419h1v1h-1zM819 420h1v1h-1zM868 420h1v1h-1zM820 421h2v1h-2zM868 421h1v1h-1zM822 422h2v1h-2zM867 422h1v1h-1zM824 423h2v1h-2zM866 423h1v1h-1zM826 424h2v1h-2zM865 424h1v1h-1zM828 425h1v1h-1zM864 425h1v1h-1zM829 426h2v1h-2zM863 426h1v1h-1zM831 427h2v1h-2zM862 427h1v1h-1zM833 428h3v1h-3zM861 428h1v1h-1zM836 429h2v1h-2zM860 429h1v1h-1zM838 430h3v1h-3zM858 430h2v1h-2zM841 431h4v1h-4zM856 431h2v1h-2zM845 432h3v1h-3zM854 432h2v1h-2zM848 433h2v1h-2zM852 433h2v1h-2zM850 434h2v1h-2z"/>
<path fill="#ff0000" d="M3 61h1v1h-1zM4 62h1v1h-1zM4 63h1v1h-1zM5 64h1v1h-1zM6 65h1v1h-1zM6 66h1v1h-1zM7 67h1v1h-1zM8 68h1v1h-1zM8 69h1v1h-1zM9 70h1v1h-1zM9 71h1v1h-1zM10 72h1v1h-1zM11 73h1v1h-1zM11 74h1v1h-1zM12 75h1v1h-1zM13 76h1v1h-1zM13 77h1v1h-1zM14 78h1v1h-1zM15 79h1v1h-1zM15 80h1v1h-1zM16 81h1v1h-1zM17 82h1v1h-1zM17 83h1v1h-1zM18 84h1v1h-1zM18 85h1v1h-1zM19 86h1v1h-1zM20 87h1v1h-1zM20 88h1v1h-1zM21 89h1v1h-1zM22 90h1v1h-1zM22 91h1v1h-1zM23 92h1v1h-1zM24 93h1v1h-1zM24 94h1v1h-1zM25 95h1v1h-1zM26 96h1v1h-1zM26 97h1v1h-1zM27 98h1v1h-1zM27 99h1v1h-1zM28 100h1v1h-1zM29 101h1v1h-1zM29 102h1v1h-1zM30 103h1v1h-1zM31 104h1v1h-1zM31 105h1v1h-1zM32 106h1v1h-1zM33 107h1v1h-1zM34 108h1v1h-1zM34 109h1v1h-1zM35 110h1v1h-1zM36 111h1v1h-1zM37 112h1v1h-1zM37 113h1v1h-1zM38 114h1v1h-1zM39 115h1v1h-1zM40 116h1v1h-1zM40 117h1v1h-1zM41 118h1v1h-1zM42 119h1v1h-1zM42 120h1v1h-1zM43 121h1v1h-1zM44 122h1v1h-1zM45 123h1v1h-1zM45 124h1v1h-1zM46 125h1v1h-1zM47 126h1v1h-1zM48 127h1v1h-1zM48 128h1v1h-1zM49 129h1v1h-1zM50 130h1v1h-1zM51 131h1v1h-1zM57 131h12v1h-12zM51 132h1v1h-1zM54 132h3v1h-3zM69 132h3v1h-3zM52 133h2v1h-2zM72 133h1v1h-1zM73 134h2v1h-2zM75 135h6v1h-6zM81 136h3v1h-3zM84 137h2v1h-2zM86 138h2v1h-2zM88 139h1v1h-1zM89 140h1v1h-1zM90 141h1v1h-1zM91 142h1v1h-1zM92 143h1v1h-1zM93 144h2v1h-2zM95 145h1v1h-1zM96 146h1v1h-1zM96 147h1v1h-1zM97 148h1v1h-1zM98 149h1v1h-1zM98 150h1v1h-1zM99 151h1v1h-1zM100 152h1v1h-1zM101 153h2v1h-2zM103 154h1v1h-1zM104 155h1v1h-1zM105 156h1v1h-1zM105 157h1v1h-1zM106 158h1v1h-1zM107 159h1v1h-1zM108 160h1v1h-1zM108 161h1v1h-1zM109 162h1v1h-1zM110 163h1v1h-1zM110 164h1v1h-1zM111 165h1v1h-1zM112 166h1v1h-1zM112 167h1v1h-1zM113 168h1v1h-1zM113 169h1v1h-1zM114 170h1v1h-1zM114 171h1v1h-1zM115 172h1v1h-1zM116 173h1v1h-1zM116 174h1v1h-1zM117 175h1v1h-1zM117 176h1v1h-1zM118 177h1v1h-1zM118 178h1v1h-1zM119 179h1v1h-1zM119 180h1v1h-1zM119 181h1v1h-1zM120 182h1v1h-1zM120 183h1v1h-1zM121 184h1v1h-1zM121 185h1v1h-1zM122 186h1v1h-1zM122 187h1v1h-1zM123 188h1v1h-1zM123 189h1v1h-1zM123 190h1v1h-1zM124 191h1v1h-1zM124 192h1v1h-1zM125 193h1v1h-1zM125 194h1v1h-1zM126 195h1v1h-1zM126 196h1v1h-1zM127 197h1v1h-1zM127 198h1v1h-1zM127 199h1v1h-1zM128 200h1v1h-1zM128 201h1v1h-1zM129 202h1v1h-1zM129 203h1v1h-1zM129 204h1v1h-1zM130 205h1v1h-1zM130 206h1v1h-1zM131 207h1v1h-1zM131 208h1v1h-1zM131 209h1v1h-1zM132 210h1v1h-1zM132 211h1v1h-1zM133 212h1v1h-1zM133 213h1v1h-1zM133 214h1v1h-1zM134 215h1v1h-1zM134 216h1v1h-1zM135 217h1v1h-1zM135 218h1v1h-1zM136 219h1v1h-1zM136 220h1v1h-1zM137 221h1v1h-1zM137 222h1v1h-1zM138 223h1v1h-1zM138 224h1v1h-1zM139 225h1v1h-1zM139 226h1v1h-1zM140 227h1v1h-1zM140 228h1v1h-1zM141 229h1v1h-1zM142 230h1v1h-1zM142 231h1v1h-1zM143 232h1v1h-1zM144 233h1v1h-1zM145 234h1v1h-1zM146 235h1v1h-1zM147 236h9v1h-9zM156 237h1v1h-1zM157 238h1v1h-1zM158 239h1v1h-1zM159 240h1v1h-1zM160 241h1v1h-1zM161 242h2v1h-2zM163 243h1v1h-1zM164 244h1v1h-1zM165 245h1v1h-1zM166 246h1v1h-1zM167 247h1v1h-1zM168 248h2v1h-2zM170 249h2v1h-2zM172 250h2v1h-2zM174 251h2v1h-2zM176 252h1v1h-1zM177 253h2v1h-2zM179 254h1v1h-1zM180 255h2v1h-2zM182 256h3v1h-3zM185 257h3v1h-3zM188 258h1v1h-1zM189 259h2v1h-2zM191 260h1v1h-1zM192 261h1v1h-1zM193 262h1v1h-1zM629 262h3v1h-3zM193 263h1v1h-1zM621 263h8v1h-8zM632 263h1v1h-1zM194 264h1v1h-1zM618 264h3v1h-3zM633 264h1v1h-1zM195 265h1v1h-1zM616 265h2v1h-2zM634 265h1v1h-1zM196 266h1v1h-1zM615 266h1v1h-1zM635 266h1v1h-1zM197 267h2v1h-2zM614 267h1v1h-1zM636 267h1v1h-1zM199 268h1v1h-1zM613 268h1v1h-1zM637 268h2v1h-2zM200 269h2v1h-2zM612 269h1v1h-1zM639 269h1v1h-1zM202 270h2v1h-2zM611 270h1v1h-1zM640 270h1v1h-1zM204 271h1v1h-1zM609 271h2v1h-2zM641 271h2v1h-2zM205 272h1v1h-1zM608 272h1v1h-1zM643 272h1v1h-1zM206 273h1v1h-1zM606 273h2v1h-2zM644 273h1v1h-1zM207 274h1v1h-1zM604 274h2v1h-2zM645 274h2v1h-2zM208 275h1v1h-1zM603 275h1v1h-1zM647 275h1v1h-1zM209 276h1v1h-1zM602 276h1v1h-1zM648 276h1v1h-1zM210 277h1v1h-1zM601 277h1v1h-1zM649 277h1v1h-1zM211 278h1v1h-1zM600 278h1v1h-1zM649 278h1v1h-1zM212 279h2v1h-2zM599 279h1v1h-1zM650 279h1v1h-1zM214 280h2v1h-2zM598 280h1v1h-1zM651 280h1v1h-1zM216 281h2v1h-2zM597 281h1v1h-1zM652 281h1v1h-1zM218 282h2v1h-2zM597 282h1v1h-1zM653 282h1v1h-1zM220 283h1v1h-1zM596 283h1v1h-1zM653 283h1v1h-1zM221 284h2v1h-2zM595 284h1v1h-1zM654 284h1v1h-1zM223 285h1v1h-1zM594 285h1v1h-1zM655 285h1v1h-1zM224 286h1v1h-1zM593 286h1v1h-1zM656 286h1v1h-1zM225 287h2v1h-2zM592 287h1v1h-1zM657 287h1v1h-1zM227 288h1v1h-1zM591 288h1v1h-1zM657 288h1v1h-1zM228 289h1v1h-1zM590 289h1v1h-1zM658 289h1v1h-1zM229 290h1v1h-1zM589 290h1v1h-1zM659 290h1v1h-1zM229 291h1v1h-1zM589 291h1v1h-1zM660 291h1v1h-1zM230 292h1v1h-1zM588 292h1v1h-1zM661 292h2v1h-2zM231 293h1v1h-1zM587 293h1v1h-1zM663 293h1v1h-1zM232 294h1v1h-1zM586 294h1v1h-1zM664 294h1v1h-1zM233 295h2v1h-2zM253 295h12v1h-12zM585 295h1v1h-1zM665 295h1v1h-1zM235 296h1v1h-1zM250 296h3v1h-3zM265 296h4v1h-4zM585 296h1v1h-1zM666 296h1v1h-1zM236 297h2v1h-2zM248 297h2v1h-2zM269 297h3v1h-3zM584 297h1v1h-1zM667 297h1v1h-1zM238 298h3v1h-3zM245 298h3v1h-3zM272 298h1v1h-1zM583 298h1v1h-1zM668 298h1v1h-1zM241 299h4v1h-4zM273 299h2v1h-2zM582 299h1v1h-1zM668 299h1v1h-1zM275 300h1v1h-1zM581 300h1v1h-1zM669 300h1v1h-1zM276 301h2v1h-2zM581 301h1v1h-1zM670 301h1v1h-1zM278 302h2v1h-2zM580 302h1v1h-1zM670 302h1v1h-1zM280 303h2v1h-2zM579 303h1v1h-1zM671 303h1v1h-1zM282 304h3v1h-3zM578 304h1v1h-1zM672 304h1v1h-1zM285 305h3v1h-3zM577 305h1v1h-1zM672 305h1v1h-1zM288 306h1v1h-1zM577 306h1v1h-1zM673 306h1v1h-1zM289 307h1v1h-1zM576 307h1v1h-1zM674 307h1v1h-1zM290 308h1v1h-1zM575 308h1v1h-1zM674 308h1v1h-1zM291 309h1v1h-1zM574 309h1v1h-1zM675 309h1v1h-1zM292 310h1v1h-1zM573 310h1v1h-1zM676 310h1v1h-1zM292 311h1v1h-1zM572 311h1v1h-1zM677 311h1v1h-1zM293 312h1v1h-1zM570 312h2v1h-2zM677 312h1v1h-1zM294 313h1v1h-1zM551 313h1v1h-1zM568 313h2v1h-2zM678 313h1v1h-1zM294 314h1v1h-1zM549 314h2v1h-2zM552 314h2v1h-2zM566 314h2v1h-2zM679 314h1v1h-1zM295 315h1v1h-1zM548 315h1v1h-1zM554 315h7v1h-7zM564 315h2v1h-2zM680 315h1v1h-1zM296 316h1v1h-1zM547 316h1v1h-1zM561 316h3v1h-3zM680 316h1v1h-1zM297 317h1v1h-1zM545 317h2v1h-2zM681 317h1v1h-1zM297 318h1v1h-1zM544 318h1v1h-1zM682 318h1v1h-1zM298 319h1v1h-1zM542 319h2v1h-2zM682 319h1v1h-1zM299 320h1v1h-1zM540 320h2v1h-2zM683 320h1v1h-1zM300 321h1v1h-1zM539 321h1v1h-1zM684 321h1v1h-1zM301 322h1v1h-1zM537 322h2v1h-2zM684 322h1v1h-1zM301 323h1v1h-1zM536 323h1v1h-1zM685 323h1v1h-1zM302 324h1v1h-1zM533 324h3v1h-3zM686 324h1v1h-1zM303 325h1v1h-1zM529 325h4v1h-4zM686 325h1v1h-1zM304 326h1v1h-1zM527 326h2v1h-2zM687 326h1v1h-1zM304 327h1v1h-1zM525 327h2v1h-2zM688 327h1v1h-1zM305 328h1v1h-1zM524 328h1v1h-1zM689 328h1v1h-1zM306 329h1v1h-1zM523 329h1v1h-1zM690 329h1v1h-1zM306 330h1v1h-1zM521 330h2v1h-2zM691 330h1v1h-1zM307 331h1v1h-1zM520 331h1v1h-1zM692 331h1v1h-1zM308 332h1v1h-1zM518 332h2v1h-2zM693 332h1v1h-1zM309 333h1v1h-1zM516 333h2v1h-2zM694 333h1v1h-1zM310 334h1v1h-1zM515 334h1v1h-1zM695 334h1v1h-1zM311 335h1v1h-1zM513 335h2v1h-2zM696 335h1v1h-1zM312 336h1v1h-1zM512 336h1v1h-1zM697 336h2v1h-2zM313 337h2v1h-2zM511 337h1v1h-1zM699 337h1v1h-1zM315 338h1v1h-1zM510 338h1v1h-1zM700 338h1v1h-1zM316 339h1v1h-1zM509 339h1v1h-1zM701 339h2v1h-2zM317 340h1v1h-1zM509 340h1v1h-1zM703 340h1v1h-1zM318 341h1v1h-1zM508 341h1v1h-1zM704 341h2v1h-2zM319 342h1v1h-1zM507 342h1v1h-1zM706 342h2v1h-2zM320 343h1v1h-1zM373 343h4v1h-4zM506 343h1v1h-1zM708 343h1v1h-1zM320 344h1v1h-1zM369 344h4v1h-4zM377 344h3v1h-3zM506 344h1v1h-1zM709 344h2v1h-2zM321 345h1v1h-1zM365 345h4v1h-4zM380 345h2v1h-2zM505 345h1v1h-1zM711 345h1v1h-1zM322 346h1v1h-1zM362 346h3v1h-3zM382 346h3v1h-3zM504 346h1v1h-1zM712 346h1v1h-1zM322 347h1v1h-1zM360 347h2v1h-2zM385 347h4v1h-4zM504 347h1v1h-1zM713 347h1v1h-1zM323 348h1v1h-1zM358 348h2v1h-2zM389 348h3v1h-3zM503 348h1v1h-1zM713 348h1v1h-1zM324 349h1v1h-1zM356 349h2v1h-2zM392 349h1v1h-1zM501 349h2v1h-2zM714 349h1v1h-1zM325 350h2v1h-2zM355 350h1v1h-1zM393 350h2v1h-2zM500 350h1v1h-1zM715 350h1v1h-1zM327 351h1v1h-1zM353 351h2v1h-2zM395 351h13v1h-13zM499 351h1v1h-1zM716 351h1v1h-1zM328 352h2v1h-2zM352 352h1v1h-1zM408 352h1v1h-1zM498 352h1v1h-1zM717 352h1v1h-1zM330 353h3v1h-3zM350 353h2v1h-2zM409 353h1v1h-1zM498 353h1v1h-1zM717 353h1v1h-1zM921 353h3v1h-3zM333 354h8v1h-8zM348 354h2v1h-2zM410 354h1v1h-1zM497 354h1v1h-1zM718 354h1v1h-1zM917 354h4v1h-4zM341 355h7v1h-7zM411 355h1v1h-1zM496 355h1v1h-1zM719 355h1v1h-1zM913 355h4v1h-4zM412 356h1v1h-1zM496 356h1v1h-1zM720 356h1v1h-1zM909 356h4v1h-4zM412 357h1v1h-1zM495 357h1v1h-1zM720 357h1v1h-1zM907 357h2v1h-2zM413 358h1v1h-1zM494 358h1v1h-1zM721 358h1v1h-1zM906 358h1v1h-1zM414 359h1v1h-1zM493 359h1v1h-1zM722 359h1v1h-1zM906 359h1v1h-1zM414 360h1v1h-1zM492 360h1v1h-1zM722 360h1v1h-1zM905 360h1v1h-1zM415 361h1v1h-1zM491 361h1v1h-1zM723 361h1v1h-1zM904 361h1v1h-1zM416 362h1v1h-1zM490 362h1v1h-1zM724 362h1v1h-1zM904 362h1v1h-1zM417 363h1v1h-1zM489 363h1v1h-1zM725 363h1v1h-1zM903 363h1v1h-1zM418 364h1v1h-1zM488 364h1v1h-1zM726 364h1v1h-1zM902 364h1v1h-1zM419 365h1v1h-1zM487 365h1v1h-1zM727 365h2v1h-2zM901 365h1v1h-1zM420 366h1v1h-1zM486 366h1v1h-1zM729 366h3v1h-3zM900 366h1v1h-1zM421 367h1v1h-1zM485 367h1v1h-1zM732 367h2v1h-2zM899 367h1v1h-1zM422 368h1v1h-1zM484 368h1v1h-1zM734 368h2v1h-2zM898 368h1v1h-1zM423 369h1v1h-1zM483 369h1v1h-1zM736 369h1v1h-1zM897 369h1v1h-1zM424 370h1v1h-1zM482 370h1v1h-1zM737 370h2v1h-2zM896 370h1v1h-1zM425 371h1v1h-1zM481 371h1v1h-1zM739 371h1v1h-1zM895 371h1v1h-1zM425 372h1v1h-1zM480 372h1v1h-1zM740 372h2v1h-2zM894 372h1v1h-1zM426 373h1v1h-1zM479 373h1v1h-1zM742 373h2v1h-2zM893 373h1v1h-1zM427 374h1v1h-1zM478 374h1v1h-1zM744 374h2v1h-2zM893 374h1v1h-1zM428 375h1v1h-1zM477 375h1v1h-1zM746 375h2v1h-2zM892 375h1v1h-1zM429 376h1v1h-1zM476 376h1v1h-1zM748 376h1v1h-1zM891 376h1v1h-1zM430 377h1v1h-1zM475 377h1v1h-1zM749 377h2v1h-2zM890 377h1v1h-1zM431 378h1v1h-1zM474 378h1v1h-1zM751 378h1v1h-1zM889 378h1v1h-1zM432 379h1v1h-1zM473 379h1v1h-1zM752 379h1v1h-1zM889 379h1v1h-1zM433 380h2v1h-2zM472 380h1v1h-1zM753 380h2v1h-2zM888 380h1v1h-1zM435 381h1v1h-1zM471 381h1v1h-1zM755 381h1v1h-1zM887 381h1v1h-1zM436 382h2v1h-2zM469 382h2v1h-2zM756 382h1v1h-1zM886 382h1v1h-1zM438 383h2v1h-2zM468 383h1v1h-1zM757 383h1v1h-1zM885 383h1v1h-1zM440 384h2v1h-2zM445 384h4v1h-4zM465 384h3v1h-3zM758 384h1v1h-1zM885 384h1v1h-1zM442 385h3v1h-3zM449 385h4v1h-4zM457 385h8v1h-8zM759 385h1v1h-1zM884 385h1v1h-1zM453 386h4v1h-4zM760 386h1v1h-1zM883 386h1v1h-1zM761 387h2v1h-2zM882 387h1v1h-1zM763 388h1v1h-1zM881 388h1v1h-1zM764 389h2v1h-2zM881 389h1v1h-1zM766 390h3v1h-3zM880 390h1v1h-1zM769 391h7v1h-7zM879 391h1v1h-1zM776 392h2v1h-2zM878 392h1v1h-1zM778 393h2v1h-2zM877 393h1v1h-1zM780 394h1v1h-1zM877 394h1v1h-1zM781 395h1v1h-1zM876 395h1v1h-1zM782 396h1v1h-1zM875 396h1v1h-1zM783 397h1v1h-1zM874 397h1v1h-1zM784 398h1v1h-1zM874 398h1v1h-1zM784 399h1v1h-1zM873 399h1v1h-1zM785 400h1v1h-1zM872 400h1v1h-1zM785 401h1v1h-1zM872 401h1v1h-1zM786 402h1v1h-1zM871 402h1v1h-1zM786 403h1v1h-1zM870 403h1v1h-1zM787 404h1v1h-1zM870 404h1v1h-1zM788 405h1v1h-1zM869 405h1v1h-1zM788 406h1v1h-1zM869 406h1v1h-1zM789 407h1v1h-1zM868 407h1v1h-1zM790 408h1v1h-1zM868 408h1v1h-1zM790 409h1v1h-1zM867 409h1v1h-1zM791 410h1v1h-1zM866 410h1v1h-1zM792 411h1v1h-1zM866 411h1v1h-1zM793 412h1v1h-1zM865 412h1v1h-1zM793 413h1v1h-1zM864 413h1v1h-1zM794 414h1v1h-1zM864 414h1v1h-1zM795 415h1v1h-1zM863 415h1v1h-1zM796 416h1v1h-1zM862 416h1v1h-1zM797 417h1v1h-1zM861 417h1v1h-1zM798 418h1v1h-1zM860 418h1v1h-1zM799 419h1v1h-1zM859 419h1v1h-1zM800 420h1v1h-1zM858 420h1v1h-1zM801 421h1v1h-1zM858 421h1v1h-1zM801 422h1v1h-1zM857 422h1v1h-1zM802 423h1v1h-1zM856 423h1v1h-1zM803 424h1v1h-1zM856 424h1v1h-1zM804 425h2v1h-2zM855 425h1v1h-1zM806 426h2v1h-2zM854 426h1v1h-1zM808 427h1v1h-1zM853 427h1v1h-1zM809 428h2v1h-2zM853 428h1v1h-1zM811 429h1v1h-1zM852 429h1v1h-1zM812 430h1v1h-1zM850 430h2v1h-2zM813 431h2v1h-2zM848 431h2v1h-2zM815 432h1v1h-1zM847 432h1v1h-1zM816 433h1v1h-1zM846 433h1v1h-1zM817 434h1v1h-1zM845 434h1v1h-1zM818 435h1v1h-1zM844 435h1v1h-1zM819 436h1v1h-1zM843 436h1v1h-1zM820 437h2v1h-2zM841 437h2v1h-2zM822 438h2v1h-2zM840 438h1v1h-1zM824 439h2v1h-2zM837 439h3v1h-3zM826 440h3v1h-3zM833 440h4v1h-4zM829 441h4v1h-4z"/>
<rect x="3" y="248" width="1162" height="2" fill="#ff0000"/>
<rect x="2" y="246" width="6" height="6" fill="#ff0000"/>
<rect x="4" y="248" width="2" height="2" fill="#ffffff"/>
<rect x="1159" y="246" width="6" height="6" fill="#ff0000"/>
<rect x="1161" y="248" width="2" height="2" fill="#ffffff"/>
<rect x="3" y="307" width="1162" height="2" fill="#ff0000"/>
<rect x="2" y="305" width="6" height="6" fill="#ff0000"/>
<rect x="4" y="307" width="2" height="2" fill="#ffffff"/>
<rect x="1159" y="305" width="6" height="6" fill="#ff0000"/>
<rect x="1161" y="307" width="2" height="2" fill="#ffffff"/>
<rect x="3" y="372" width="1162" height="2" fill="#00ff00"/>
<rect x="2" y="370" width="6" height="6" fill="#00ff00"/>
<rect x="4" y="372" width="2" height="2" fill="#ffffff"/>
<rect x="1159" y="370" width="6" height="6" fill="#00ff00"/>
<rect x="1161" y="372" width="2" height="2" fill="#ffffff"/>
<rect x="3" y="423" width="1162" height="2" fill="#0000ff"/>
<rect x="3" y="473" width="1162" height="2" fill="#0000ff"/>
<g clip-path="url(#cm)">
<rect x="3" y="129" width="1" height="11" fill="#ff0000"/>
<rect x="2" y="134" width="3" height="4" fill="#ff0000"/>
<rect x="3" y="135" width="1" height="2" fill="#ff4500"/>
<rect x="7" y="90" width="1" height="25" fill="#ff0000"/>
<rect x="6" y="92" width="3" height="8" fill="#ff0000"/>
<rect x="7" y="93" width="1" height="6" fill="#ff4500"/>
<rect x="11" y="80" width="1" height="18" fill="#32cd32"/>
<rect x="10" y="85" width="3" height="10" fill="#32cd32"/>
<rect x="15" y="90" width="1" height="28" fill="#32cd32"/>
<rect x="14" y="92" width="3" height="21" fill="#32cd32"/>
<rect x="19" y="90" width="1" height="31" fill="#ff0000"/>
<rect x="18" y="92" width="3" height="21" fill="#ff0000"/>
<rect x="19" y="93" width="1" height="19" fill="#ff4500"/>
<rect x="23" y="90" width="1" height="45" fill="#32cd32"/>
<rect x="22" y="92" width="3" height="38" fill="#32cd32"/>
<rect x="27" y="126" width="1" height="5" fill="#ff0000"/>
<rect x="26" y="127" width="3" height="3" fill="#ff0000"/>
<rect x="27" y="128" width="1" height="1" fill="#ff4500"/>
<rect x="31" y="122" width="1" height="31" fill="#32cd32"/>
<rect x="30" y="128" width="3" height="19" fill="#32cd32"/>
<rect x="35" y="138" width="1" height="24" fill="#32cd32"/>
<rect x="34" y="147" width="3" height="14" fill="#32cd32"/>
<rect x="39" y="157" width="1" height="38" fill="#32cd32"/>
<rect x="38" y="160" width="3" height="22" fill="#32cd32"/>
<rect x="43" y="145" width="1" height="42" fill="#ff0000"/>
<rect x="42" y="154" width="3" height="28" fill="#ff0000"/>
<rect x="43" y="155" width="1" height="26" fill="#ff4500"/>
<rect x="47" y="138" width="1" height="36" fill="#ff0000"/>
<rect x="46" y="153" width="3" height="2" fill="#ff0000"/>
<rect x="51" y="148" width="1" height="7" fill="#32cd32"/>
<rect x="50" y="153" width="3" height="2" fill="#32cd32"/>
<rect x="55" y="104" width="1" height="56" fill="#ff0000"/>
<rect x="54" y="119" width="3" height="38" fill="#ff0000"/>
<rect x="55" y="120" width="1" height="36" fill="#ff4500"/>
<rect x="59" y="90" width="1" height="45" fill="#ff0000"/>
<rect x="58" y="118" width="3" height="2" fill="#ff0000"/>
<rect x="63" y="90" width="1" height="33" fill="#ff0000"/>
<rect x="62" y="92" width="3" height="26" fill="#ff0000"/>
<rect x="63" y="93" width="1" height="24" fill="#ff4500"/>
<rect x="67" y="90" width="1" height="33" fill="#32cd32"/>
<rect x="66" y="92" width="3" height="8" fill="#32cd32"/>
<rect x="71" y="90" width="1" height="56" fill="#32cd32"/>
<rect x="70" y="92" width="3" height="34" fill="#32cd32"/>
<rect x="75" y="123" width="1" height="10" fill="#32cd32"/>
<rect x="74" y="126" width="3" height="2" fill="#32cd32"/>
<rect x="79" y="118" width="1" height="20" fill="#32cd32"/>
<rect x="78" y="127" width="3" height="3" fill="#32cd32"/>
<rect x="83" y="126" width="1" height="21" fill="#32cd32"/>
<rect x="82" y="130" width="3" height="13" fill="#32cd32"/>
<rect x="87" y="103" width="1" height="81" fill="#32cd32"/>
<rect x="86" y="142" width="3" height="37" fill="#32cd32"/>
<rect x="91" y="159" width="1" height="63" fill="#32cd32"/>
<rect x="90" y="179" width="3" height="35" fill="#32cd32"/>
<rect x="95" y="194" width="1" height="44" fill="#32cd32"/>
<rect x="94" y="212" width="3" height="20" fill="#32cd32"/>
<rect x="99" y="231" width="1" height="7" fill="#32cd32"/>
<rect x="98" y="231" width="3" height="6" fill="#32cd32"/>
<rect x="103" y="182" width="1" height="95" fill="#ff0000"/>
<rect x="102" y="195" width="3" height="46" fill="#ff0000"/>
<rect x="103" y="196" width="1" height="44" fill="#ff4500"/>
<rect x="107" y="173" width="1" height="64" fill="#32cd32"/>
<rect x="106" y="195" width="3" height="25" fill="#32cd32"/>
<rect x="111" y="194" width="1" height="48" fill="#ff0000"/>
<rect x="110" y="202" width="3" height="18" fill="#ff0000"/>
<rect x="111" y="203" width="1" height="16" fill="#ff4500"/>
<rect x="115" y="188" width="1" height="34" fill="#32cd32"/>
<rect x="114" y="202" width="3" height="18" fill="#32cd32"/>
<rect x="119" y="195" width="1" height="27" fill="#ff0000"/>
<rect x="118" y="212" width="3" height="8" fill="#ff0000"/>
<rect x="119" y="213" width="1" height="6" fill="#ff4500"/>
<rect x="123" y="210" width="1" height="13" fill="#32cd32"/>
<rect x="122" y="212" width="3" height="11" fill="#32cd32"/>
<rect x="127" y="230" width="1" height="27" fill="#32cd32"/>
<rect x="126" y="233" width="3" height="17" fill="#32cd32"/>
<rect x="131" y="245" width="1" height="33" fill="#32cd32"/>
<rect x="130" y="249" width="3" height="21" fill="#32cd32"/>
<rect x="135" y="256" width="1" height="36" fill="#ff0000"/>
<rect x="134" y="267" width="3" height="3" fill="#ff0000"/>
<rect x="135" y="268" width="1" height="1" fill="#ff4500"/>
<rect x="139" y="232" width="1" height="40" fill="#ff0000"/>
<rect x="138" y="246" width="3" height="21" fill="#ff0000"/>
<rect x="139" y="247" width="1" height="19" fill="#ff4500"/>
<rect x="143" y="241" width="1" height="30" fill="#32cd32"/>
<rect x="142" y="245" width="3" height="22" fill="#32cd32"/>
<rect x="147" y="262" width="1" height="11" fill="#32cd32"/>
<rect x="146" y="266" width="3" height="5" fill="#32cd32"/>
<rect x="151" y="236" width="1" height="43" fill="#ff0000"/>
<rect x="150" y="238" width="3" height="30" fill="#ff0000"/>
<rect x="151" y="239" width="1" height="28" fill="#ff4500"/>
<rect x="155" y="226" width="1" height="29" fill="#ff0000"/>
<rect x="154" y="236" width="3" height="3" fill="#ff0000"/>
<rect x="155" y="237" width="1" height="1" fill="#ff4500"/>
<rect x="159" y="235" width="1" height="23" fill="#32cd32"/>
<rect x="158" y="235" width="3" height="13" fill="#32cd32"/>
<rect x="163" y="247" width="1" height="22" fill="#32cd32"/>
<rect x="162" y="248" width="3" height="12" fill="#32cd32"/>
<rect x="167" y="243" width="1" height="17" fill="#ff0000"/>
<rect x="166" y="255" width="3" height="4" fill="#ff0000"/>
<rect x="167" y="256" width="1" height="2" fill="#ff4500"/>
<rect x="171" y="250" width="1" height="6" fill="#ff0000"/>
<rect x="170" y="252" width="3" height="4" fill="#ff0000"/>
<rect x="171" y="253" width="1" height="2" fill="#ff4500"/>
<rect x="175" y="235" width="1" height="23" fill="#ff0000"/>
<rect x="174" y="244" width="3" height="6" fill="#ff0000"/>
<rect x="175" y="245" width="1" height="4" fill="#ff4500"/>
<rect x="179" y="237" width="1" height="35" fill="#32cd32"/>
<rect x="178" y="243" width="3" height="22" fill="#32cd32"/>
<rect x="183" y="261" width="1" height="21" fill="#32cd32"/>
<rect x="182" y="265" width="3" height="5" fill="#32cd32"/>
<rect x="187" y="270" width="1" height="28" fill="#32cd32"/>
<rect x="186" y="271" width="3" height="18" fill="#32cd32"/>
<rect x="191" y="281" width="1" height="31" fill="#32cd32"/>
<rect x="190" y="288" width="3" height="22" fill="#32cd32"/>
<rect x="195" y="306" width="1" height="11" fill="#32cd32"/>
<rect x="194" y="308" width="3" height="4" fill="#32cd32"/>
<rect x="199" y="288" width="1" height="26" fill="#ff0000"/>
<rect x="198" y="304" width="3" height="6" fill="#ff0000"/>
<rect x="199" y="305" width="1" height="4" fill="#ff4500"/>
<rect x="203" y="297" width="1" height="20" fill="#32cd32"/>
<rect x="202" y="304" width="3" height="2" fill="#32cd32"/>
<rect x="207" y="299" width="1" height="28" fill="#ff0000"/>
<rect x="206" y="299" width="3" height="7" fill="#ff0000"/>
<rect x="207" y="300" width="1" height="5" fill="#ff4500"/>
<rect x="211" y="278" width="1" height="22" fill="#ff0000"/>
<rect x="210" y="282" width="3" height="18" fill="#ff0000"/>
<rect x="211" y="283" width="1" height="16" fill="#ff4500"/>
<rect x="215" y="277" width="1" height="25" fill="#32cd32"/>
<rect x="214" y="282" width="3" height="3" fill="#32cd32"/>
<rect x="219" y="283" width="1" height="6" fill="#32cd32"/>
<rect x="218" y="284" width="3" height="1" fill="#32cd32"/>
<rect x="223" y="289" width="1" height="18" fill="#ff0000"/>
<rect x="222" y="290" width="3" height="4" fill="#ff0000"/>
<rect x="223" y="291" width="1" height="2" fill="#ff4500"/>
<rect x="227" y="279" width="1" height="19" fill="#32cd32"/>
<rect x="226" y="290" width="3" height="7" fill="#32cd32"/>
<rect x="231" y="296" width="1" height="24" fill="#32cd32"/>
<rect x="230" y="296" width="3" height="18" fill="#32cd32"/>
<rect x="235" y="303" width="1" height="22" fill="#ff0000"/>
<rect x="234" y="307" width="3" height="8" fill="#ff0000"/>
<rect x="235" y="308" width="1" height="6" fill="#ff4500"/>
<rect x="239" y="291" width="1" height="23" fill="#ff0000"/>
<rect x="238" y="306" width="3" height="2" fill="#ff0000"/>
<rect x="243" y="300" width="1" height="7" fill="#ff0000"/>
<rect x="242" y="300" width="3" height="7" fill="#ff0000"/>
<rect x="243" y="301" width="1" height="5" fill="#ff4500"/>
<rect x="247" y="270" width="1" height="30" fill="#ff0000"/>
<rect x="246" y="287" width="3" height="12" fill="#ff0000"/>
<rect x="247" y="288" width="1" height="10" fill="#ff4500"/>
<rect x="251" y="275" width="1" height="19" fill="#ff0000"/>
<rect x="250" y="282" width="3" height="6" fill="#ff0000"/>
<rect x="251" y="283" width="1" height="4" fill="#ff4500"/>
<rect x="255" y="276" width="1" height="29" fill="#32cd32"/>
<rect x="254" y="282" width="3" height="9" fill="#32cd32"/>
<rect x="259" y="287" width="1" height="23" fill="#32cd32"/>
<rect x="258" y="290" width="3" height="19" fill="#32cd32"/>
<rect x="263" y="303" width="1" height="7" fill="#ff0000"/>
<rect x="262" y="305" width="3" height="4" fill="#ff0000"/>
<rect x="263" y="306" width="1" height="2" fill="#ff4500"/>
<rect x="267" y="288" width="1" height="22" fill="#ff0000"/>
<rect x="266" y="289" width="3" height="20" fill="#ff0000"/>
<rect x="267" y="290" width="1" height="18" fill="#ff4500"/>
<rect x="271" y="287" width="1" height="23" fill="#32cd32"/>
<rect x="270" y="289" width="3" height="13" fill="#32cd32"/>
<rect x="275" y="299" width="1" height="25" fill="#32cd32"/>
<rect x="274" y="300" width="3" height="20" fill="#32cd32"/>
<rect x="279" y="307" width="1" height="30" fill="#32cd32"/>
<rect x="278" y="320" width="3" height="7" fill="#32cd32"/>
<rect x="283" y="320" width="1" height="11" fill="#ff0000"/>
<rect x="282" y="324" width="3" height="3" fill="#ff0000"/>
<rect x="283" y="325" width="1" height="1" fill="#ff4500"/>
<rect x="286" y="321" width="3" height="1" fill="#000"/>
<rect x="291" y="329" width="1" height="56" fill="#32cd32"/>
<rect x="290" y="331" width="3" height="41" fill="#32cd32"/>
<rect x="295" y="359" width="1" height="54" fill="#32cd32"/>
<rect x="294" y="373" width="3" height="12" fill="#32cd32"/>
<rect x="299" y="368" width="1" height="33" fill="#ff0000"/>
<rect x="298" y="372" width="3" height="13" fill="#ff0000"/>
<rect x="299" y="373" width="1" height="11" fill="#ff4500"/>
<rect x="303" y="353" width="1" height="36" fill="#ff0000"/>
<rect x="302" y="353" width="3" height="19" fill="#ff0000"/>
<rect x="303" y="354" width="1" height="17" fill="#ff4500"/>
<rect x="307" y="346" width="1" height="26" fill="#32cd32"/>
<rect x="306" y="353" width="3" height="14" fill="#32cd32"/>
<rect x="311" y="348" width="1" height="24" fill="#ff0000"/>
<rect x="310" y="357" width="3" height="10" fill="#ff0000"/>
<rect x="311" y="358" width="1" height="8" fill="#ff4500"/>
<rect x="315" y="334" width="1" height="23" fill="#ff0000"/>
<rect x="314" y="348" width="3" height="2" fill="#ff0000"/>
<rect x="319" y="344" width="1" height="28" fill="#32cd32"/>
<rect x="318" y="348" width="3" height="17" fill="#32cd32"/>
<rect x="323" y="356" width="1" height="29" fill="#ff0000"/>
<rect x="322" y="360" width="3" height="5" fill="#ff0000"/>
<rect x="323" y="361" width="1" height="3" fill="#ff4500"/>
<rect x="327" y="348" width="1" height="19" fill="#ff0000"/>
<rect x="326" y="352" width="3" height="9" fill="#ff0000"/>
<rect x="327" y="353" width="1" height="7" fill="#ff4500"/>
<rect x="331" y="339" width="1" height="25" fill="#ff0000"/>
<rect x="330" y="340" width="3" height="13" fill="#ff0000"/>
<rect x="331" y="341" width="1" height="11" fill="#ff4500"/>
<rect x="335" y="338" width="1" height="9" fill="#ff0000"/>
<rect x="334" y="338" width="3" height="4" fill="#ff0000"/>
<rect x="335" y="339" width="1" height="2" fill="#ff4500"/>
<rect x="339" y="316" width="1" height="27" fill="#ff0000"/>
<rect x="338" y="327" width="3" height="11" fill="#ff0000"/>
<rect x="339" y="328" width="1" height="9" fill="#ff4500"/>
<rect x="343" y="325" width="1" height="25" fill="#32cd32"/>
<rect x="342" y="327" width="3" height="16" fill="#32cd32"/>
<rect x="347" y="340" width="1" height="24" fill="#32cd32"/>
<rect x="346" y="346" width="3" height="18" fill="#32cd32"/>
<rect x="351" y="356" width="1" height="14" fill="#ff0000"/>
<rect x="350" y="357" width="3" height="7" fill="#ff0000"/>
<rect x="351" y="358" width="1" height="5" fill="#ff4500"/>
<rect x="355" y="325" width="1" height="37" fill="#ff0000"/>
<rect x="354" y="330" width="3" height="28" fill="#ff0000"/>
<rect x="355" y="331" width="1" height="26" fill="#ff4500"/>
<rect x="359" y="326" width="1" height="9" fill="#ff0000"/>
<rect x="358" y="327" width="3" height="3" fill="#ff0000"/>
<rect x="359" y="328" width="1" height="1" fill="#ff4500"/>
<rect x="363" y="327" width="1" height="16" fill="#32cd32"/>
<rect x="362" y="330" width="3" height="3" fill="#32cd32"/>
<rect x="367" y="330" width="1" height="25" fill="#32cd32"/>
<rect x="366" y="332" width="3" height="22" fill="#32cd32"/>
<rect x="371" y="323" width="1" height="34" fill="#ff0000"/>
<rect x="370" y="330" width="3" height="23" fill="#ff0000"/>
<rect x="371" y="331" width="1" height="21" fill="#ff4500"/>
<rect x="375" y="308" width="1" height="47" fill="#32cd32"/>
<rect x="374" y="329" width="3" height="21" fill="#32cd32"/>
<rect x="379" y="343" width="1" height="42" fill="#32cd32"/>
<rect x="378" y="349" width="3" height="35" fill="#32cd32"/>
<rect x="383" y="368" width="1" height="16" fill="#ff0000"/>
<rect x="382" y="374" width="3" height="10" fill="#ff0000"/>
<rect x="383" y="375" width="1" height="8" fill="#ff4500"/>
<rect x="387" y="345" width="1" height="37" fill="#ff0000"/>
<rect x="386" y="347" width="3" height="23" fill="#ff0000"/>
<rect x="387" y="348" width="1" height="21" fill="#ff4500"/>
<rect x="391" y="345" width="1" height="25" fill="#32cd32"/>
<rect x="390" y="347" width="3" height="15" fill="#32cd32"/>
<rect x="395" y="356" width="1" height="14" fill="#ff0000"/>
<rect x="394" y="361" width="3" height="1" fill="#ff0000"/>
<rect x="399" y="346" width="1" height="22" fill="#ff0000"/>
<rect x="398" y="348" width="3" height="9" fill="#ff0000"/>
<rect x="399" y="349" width="1" height="7" fill="#ff4500"/>
<rect x="403" y="336" width="1" height="27" fill="#32cd32"/>
<rect x="402" y="348" width="3" height="14" fill="#32cd32"/>
<rect x="407" y="361" width="1" height="4" fill="#32cd32"/>
<rect x="406" y="362" width="3" height="3" fill="#32cd32"/>
<rect x="411" y="362" width="1" height="23" fill="#32cd32"/>
<rect x="410" y="366" width="3" height="17" fill="#32cd32"/>
<rect x="415" y="376" width="1" height="28" fill="#32cd32"/>
<rect x="414" y="382" width="3" height="22" fill="#32cd32"/>
<rect x="419" y="393" width="1" height="19" fill="#ff0000"/>
<rect x="418" y="397" width="3" height="7" fill="#ff0000"/>
<rect x="419" y="398" width="1" height="5" fill="#ff4500"/>
<rect x="423" y="390" width="1" height="19" fill="#32cd32"/>
<rect x="422" y="396" width="3" height="10" fill="#32cd32"/>
<rect x="427" y="387" width="1" height="22" fill="#ff0000"/>
<rect x="426" y="402" width="3" height="5" fill="#ff0000"/>
<rect x="427" y="403" width="1" height="3" fill="#ff4500"/>
<rect x="431" y="401" width="1" height="6" fill="#32cd32"/>
<rect x="430" y="402" width="3" height="1" fill="#32cd32"/>
<rect x="435" y="401" width="1" height="23" fill="#32cd32"/>
<rect x="434" y="402" width="3" height="20" fill="#32cd32"/>
<rect x="439" y="395" width="1" height="29" fill="#ff0000"/>
<rect x="438" y="402" width="3" height="19" fill="#ff0000"/>
<rect x="439" y="403" width="1" height="17" fill="#ff4500"/>
<rect x="443" y="374" width="1" height="30" fill="#ff0000"/>
<rect x="442" y="379" width="3" height="23" fill="#ff0000"/>
<rect x="443" y="380" width="1" height="21" fill="#ff4500"/>
<rect x="447" y="353" width="1" height="42" fill="#ff0000"/>
<rect x="446" y="353" width="3" height="27" fill="#ff0000"/>
<rect x="447" y="354" width="1" height="25" fill="#ff4500"/>
<rect x="451" y="353" width="1" height="29" fill="#32cd32"/>
<rect x="450" y="354" width="3" height="15" fill="#32cd32"/>
<rect x="455" y="360" width="1" height="13" fill="#ff0000"/>
<rect x="454" y="362" width="3" height="6" fill="#ff0000"/>
<rect x="455" y="363" width="1" height="4" fill="#ff4500"/>
<rect x="459" y="348" width="1" height="27" fill="#ff0000"/>
<rect x="458" y="350" width="3" height="25" fill="#ff0000"/>
<rect x="459" y="351" width="1" height="23" fill="#ff4500"/>
<rect x="463" y="349" width="1" height="23" fill="#32cd32"/>
<rect x="462" y="350" width="3" height="13" fill="#32cd32"/>
<rect x="467" y="355" width="1" height="29" fill="#32cd32"/>
<rect x="466" y="362" width="3" height="8" fill="#32cd32"/>
<rect x="471" y="362" width="1" height="20" fill="#ff0000"/>
<rect x="470" y="362" width="3" height="8" fill="#ff0000"/>
<rect x="471" y="363" width="1" height="6" fill="#ff4500"/>
<rect x="475" y="316" width="1" height="49" fill="#ff0000"/>
<rect x="474" y="346" width="3" height="18" fill="#ff0000"/>
<rect x="475" y="347" width="1" height="16" fill="#ff4500"/>
<rect x="479" y="334" width="1" height="14" fill="#ff0000"/>
<rect x="478" y="338" width="3" height="9" fill="#ff0000"/>
<rect x="479" y="339" width="1" height="7" fill="#ff4500"/>
<rect x="483" y="346" width="1" height="14" fill="#32cd32"/>
<rect x="482" y="351" width="3" height="7" fill="#32cd32"/>
<rect x="487" y="340" width="1" height="22" fill="#ff0000"/>
<rect x="486" y="347" width="3" height="11" fill="#ff0000"/>
<rect x="487" y="348" width="1" height="9" fill="#ff4500"/>
<rect x="491" y="345" width="1" height="22" fill="#32cd32"/>
<rect x="490" y="347" width="3" height="7" fill="#32cd32"/>
<rect x="495" y="343" width="1" height="12" fill="#ff0000"/>
<rect x="494" y="349" width="3" height="4" fill="#ff0000"/>
<rect x="495" y="350" width="1" height="2" fill="#ff4500"/>
<rect x="499" y="303" width="1" height="48" fill="#ff0000"/>
<rect x="498" y="304" width="3" height="46" fill="#ff0000"/>
<rect x="499" y="305" width="1" height="44" fill="#ff4500"/>
<rect x="503" y="295" width="1" height="16" fill="#32cd32"/>
<rect x="502" y="304" width="3" height="7" fill="#32cd32"/>
<rect x="507" y="274" width="1" height="45" fill="#ff0000"/>
<rect x="506" y="276" width="3" height="39" fill="#ff0000"/>
<rect x="507" y="277" width="1" height="37" fill="#ff4500"/>
<rect x="511" y="261" width="1" height="53" fill="#32cd32"/>
<rect x="510" y="276" width="3" height="24" fill="#32cd32"/>
<rect x="515" y="295" width="1" height="26" fill="#32cd32"/>
<rect x="514" y="300" width="3" height="12" fill="#32cd32"/>
<rect x="519" y="309" width="1" height="33" fill="#32cd32"/>
<rect x="518" y="312" width="3" height="23" fill="#32cd32"/>
<rect x="523" y="308" width="1" height="41" fill="#ff0000"/>
<rect x="522" y="322" width="3" height="13" fill="#ff0000"/>
<rect x="523" y="323" width="1" height="11" fill="#ff4500"/>
<rect x="527" y="320" width="1" height="11" fill="#32cd32"/>
<rect x="526" y="322" width="3" height="3" fill="#32cd32"/>
<rect x="531" y="308" width="1" height="23" fill="#ff0000"/>
<rect x="530" y="323" width="3" height="3" fill="#ff0000"/>
<rect x="531" y="324" width="1" height="1" fill="#ff4500"/>
<rect x="535" y="318" width="1" height="14" fill="#32cd32"/>
<rect x="534" y="323" width="3" height="1" fill="#32cd32"/>
<rect x="539" y="314" width="1" height="12" fill="#ff0000"/>
<rect x="538" y="314" width="3" height="9" fill="#ff0000"/>
<rect x="539" y="315" width="1" height="7" fill="#ff4500"/>
<rect x="543" y="312" width="1" height="28" fill="#32cd32"/>
<rect x="542" y="314" width="3" height="7" fill="#32cd32"/>
<rect x="547" y="302" width="1" height="21" fill="#ff0000"/>
<rect x="546" y="312" width="3" height="7" fill="#ff0000"/>
<rect x="547" y="313" width="1" height="5" fill="#ff4500"/>
<rect x="551" y="312" width="1" height="7" fill="#32cd32"/>
<rect x="550" y="312" width="3" height="5" fill="#32cd32"/>
<rect x="555" y="307" width="1" height="16" fill="#32cd32"/>
<rect x="554" y="308" width="3" height="13" fill="#32cd32"/>
<rect x="559" y="309" width="1" height="12" fill="#ff0000"/>
<rect x="558" y="310" width="3" height="11" fill="#ff0000"/>
<rect x="559" y="311" width="1" height="9" fill="#ff4500"/>
<rect x="563" y="295" width="1" height="19" fill="#ff0000"/>
<rect x="562" y="299" width="3" height="12" fill="#ff0000"/>
<rect x="563" y="300" width="1" height="10" fill="#ff4500"/>
<rect x="567" y="273" width="1" height="29" fill="#ff0000"/>
<rect x="566" y="273" width="3" height="28" fill="#ff0000"/>
<rect x="567" y="274" width="1" height="26" fill="#ff4500"/>
<rect x="571" y="270" width="1" height="17" fill="#32cd32"/>
<rect x="570" y="274" width="3" height="8" fill="#32cd32"/>
<rect x="575" y="278" width="1" height="5" fill="#32cd32"/>
<rect x="574" y="281" width="3" height="2" fill="#32cd32"/>
<rect x="579" y="239" width="1" height="45" fill="#ff0000"/>
<rect x="578" y="249" width="3" height="32" fill="#ff0000"/>
<rect x="579" y="250" width="1" height="30" fill="#ff4500"/>
<rect x="583" y="239" width="1" height="17" fill="#ff0000"/>
<rect x="582" y="248" width="3" height="1" fill="#ff0000"/>
<rect x="587" y="245" width="1" height="23" fill="#32cd32"/>
<rect x="586" y="248" width="3" height="12" fill="#32cd32"/>
<rect x="591" y="235" width="1" height="31" fill="#ff0000"/>
<rect x="590" y="250" width="3" height="11" fill="#ff0000"/>
<rect x="591" y="251" width="1" height="9" fill="#ff4500"/>
<rect x="595" y="246" width="1" height="7" fill="#32cd32"/>
<rect x="594" y="249" width="3" height="3" fill="#32cd32"/>
<rect x="599" y="246" width="1" height="5" fill="#32cd32"/>
<rect x="598" y="247" width="3" height="4" fill="#32cd32"/>
<rect x="603" y="239" width="1" height="29" fill="#32cd32"/>
<rect x="602" y="249" width="3" height="19" fill="#32cd32"/>
<rect x="607" y="258" width="1" height="26" fill="#32cd32"/>
<rect x="606" y="267" width="3" height="16" fill="#32cd32"/>
<rect x="611" y="275" width="1" height="10" fill="#ff0000"/>
<rect x="610" y="276" width="3" height="7" fill="#ff0000"/>
<rect x="611" y="277" width="1" height="5" fill="#ff4500"/>
<rect x="615" y="261" width="1" height="19" fill="#ff0000"/>
<rect x="614" y="263" width="3" height="13" fill="#ff0000"/>
<rect x="615" y="264" width="1" height="11" fill="#ff4500"/>
<rect x="619" y="253" width="1" height="20" fill="#32cd32"/>
<rect x="618" y="263" width="3" height="3" fill="#32cd32"/>
<rect x="623" y="262" width="1" height="4" fill="#ff0000"/>
<rect x="622" y="264" width="3" height="2" fill="#ff0000"/>
<rect x="627" y="257" width="1" height="21" fill="#32cd32"/>
<rect x="626" y="263" width="3" height="10" fill="#32cd32"/>
<rect x="631" y="266" width="1" height="15" fill="#32cd32"/>
<rect x="630" y="274" width="3" height="4" fill="#32cd32"/>
<rect x="635" y="276" width="1" height="22" fill="#32cd32"/>
<rect x="634" y="276" width="3" height="22" fill="#32cd32"/>
<rect x="639" y="279" width="1" height="23" fill="#32cd32"/>
<rect x="638" y="296" width="3" height="1" fill="#32cd32"/>
<rect x="643" y="287" width="1" height="17" fill="#32cd32"/>
<rect x="642" y="297" width="3" height="3" fill="#32cd32"/>
<rect x="647" y="293" width="1" height="8" fill="#ff0000"/>
<rect x="646" y="296" width="3" height="4" fill="#ff0000"/>
<rect x="647" y="297" width="1" height="2" fill="#ff4500"/>
<rect x="651" y="289" width="1" height="33" fill="#32cd32"/>
<rect x="650" y="295" width="3" height="18" fill="#32cd32"/>
<rect x="655" y="312" width="1" height="25" fill="#32cd32"/>
<rect x="654" y="313" width="3" height="12" fill="#32cd32"/>
<rect x="659" y="320" width="1" height="16" fill="#32cd32"/>
<rect x="658" y="324" width="3" height="11" fill="#32cd32"/>
<rect x="663" y="332" width="1" height="13" fill="#ff0000"/>
<rect x="662" y="333" width="3" height="2" fill="#ff0000"/>
<rect x="667" y="324" width="1" height="14" fill="#ff0000"/>
<rect x="666" y="332" width="3" height="2" fill="#ff0000"/>
<rect x="671" y="331" width="1" height="6" fill="#32cd32"/>
<rect x="670" y="332" width="3" height="4" fill="#32cd32"/>
<rect x="675" y="332" width="1" height="18" fill="#32cd32"/>
<rect x="674" y="335" width="3" height="15" fill="#32cd32"/>
<rect x="679" y="338" width="1" height="16" fill="#ff0000"/>
<rect x="678" y="345" width="3" height="5" fill="#ff0000"/>
<rect x="679" y="346" width="1" height="3" fill="#ff4500"/>
<rect x="683" y="337" width="1" height="14" fill="#32cd32"/>
<rect x="682" y="345" width="3" height="6" fill="#32cd32"/>
<rect x="687" y="346" width="1" height="17" fill="#32cd32"/>
<rect x="686" y="350" width="3" height="8" fill="#32cd32"/>
<rect x="691" y="352" width="1" height="11" fill="#ff0000"/>
<rect x="690" y="355" width="3" height="3" fill="#ff0000"/>
<rect x="691" y="356" width="1" height="1" fill="#ff4500"/>
<rect x="695" y="350" width="1" height="6" fill="#ff0000"/>
<rect x="694" y="351" width="3" height="5" fill="#ff0000"/>
<rect x="695" y="352" width="1" height="3" fill="#ff4500"/>
<rect x="699" y="341" width="1" height="15" fill="#32cd32"/>
<rect x="698" y="351" width="3" height="1" fill="#32cd32"/>
<rect x="703" y="334" width="1" height="22" fill="#ff0000"/>
<rect x="702" y="337" width="3" height="15" fill="#ff0000"/>
<rect x="703" y="338" width="1" height="13" fill="#ff4500"/>
<rect x="707" y="331" width="1" height="15" fill="#32cd32"/>
<rect x="706" y="337" width="3" height="2" fill="#32cd32"/>
<rect x="711" y="334" width="1" height="25" fill="#32cd32"/>
<rect x="710" y="339" width="3" height="19" fill="#32cd32"/>
<rect x="715" y="356" width="1" height="53" fill="#32cd32"/>
<rect x="714" y="358" width="3" height="51" fill="#32cd32"/>
<rect x="719" y="400" width="1" height="10" fill="#ff0000"/>
<rect x="718" y="405" width="3" height="4" fill="#ff0000"/>
<rect x="719" y="406" width="1" height="2" fill="#ff4500"/>
<rect x="723" y="395" width="1" height="24" fill="#32cd32"/>
<rect x="722" y="409" width="3" height="7" fill="#32cd32"/>
<rect x="727" y="392" width="1" height="23" fill="#ff0000"/>
<rect x="726" y="396" width="3" height="19" fill="#ff0000"/>
<rect x="727" y="397" width="1" height="17" fill="#ff4500"/>
<rect x="731" y="364" width="1" height="36" fill="#ff0000"/>
<rect x="730" y="365" width="3" height="32" fill="#ff0000"/>
<rect x="731" y="366" width="1" height="30" fill="#ff4500"/>
<rect x="735" y="363" width="1" height="17" fill="#32cd32"/>
<rect x="734" y="365" width="3" height="7" fill="#32cd32"/>
<rect x="739" y="370" width="1" height="24" fill="#32cd32"/>
<rect x="738" y="373" width="3" height="12" fill="#32cd32"/>
<rect x="743" y="384" width="1" height="3" fill="#32cd32"/>
<rect x="742" y="385" width="3" height="2" fill="#32cd32"/>
<rect x="747" y="374" width="1" height="13" fill="#ff0000"/>
<rect x="746" y="380" width="3" height="5" fill="#ff0000"/>
<rect x="747" y="381" width="1" height="3" fill="#ff4500"/>
<rect x="751" y="380" width="1" height="27" fill="#32cd32"/>
<rect x="750" y="380" width="3" height="20" fill="#32cd32"/>
<rect x="755" y="386" width="1" height="22" fill="#ff0000"/>
<rect x="754" y="395" width="3" height="5" fill="#ff0000"/>
<rect x="755" y="396" width="1" height="3" fill="#ff4500"/>
<rect x="759" y="382" width="1" height="19" fill="#ff0000"/>
<rect x="758" y="391" width="3" height="5" fill="#ff0000"/>
<rect x="759" y="392" width="1" height="3" fill="#ff4500"/>
<rect x="763" y="384" width="1" height="14" fill="#ff0000"/>
<rect x="762" y="384" width="3" height="7" fill="#ff0000"/>
<rect x="763" y="385" width="1" height="5" fill="#ff4500"/>
<rect x="767" y="384" width="1" height="5" fill="#32cd32"/>
<rect x="766" y="384" width="3" height="5" fill="#32cd32"/>
<rect x="771" y="383" width="1" height="30" fill="#32cd32"/>
<rect x="770" y="389" width="3" height="21" fill="#32cd32"/>
<rect x="775" y="409" width="1" height="25" fill="#32cd32"/>
<rect x="774" y="410" width="3" height="8" fill="#32cd32"/>
<rect x="779" y="412" width="1" height="37" fill="#32cd32"/>
<rect x="778" y="418" width="3" height="22" fill="#32cd32"/>
<rect x="783" y="433" width="1" height="24" fill="#32cd32"/>
<rect x="782" y="440" width="3" height="9" fill="#32cd32"/>
<rect x="787" y="444" width="1" height="24" fill="#32cd32"/>
<rect x="786" y="448" width="3" height="13" fill="#32cd32"/>
<rect x="791" y="459" width="1" height="8" fill="#32cd32"/>
<rect x="790" y="460" width="3" height="6" fill="#32cd32"/>
<rect x="795" y="450" width="1" height="19" fill="#32cd32"/>
<rect x="794" y="454" width="3" height="1" fill="#32cd32"/>
<rect x="799" y="439" width="1" height="26" fill="#ff0000"/>
<rect x="798" y="442" width="3" height="13" fill="#ff0000"/>
<rect x="799" y="443" width="1" height="11" fill="#ff4500"/>
<rect x="803" y="434" width="1" height="14" fill="#32cd32"/>
<rect x="802" y="442" width="3" height="5" fill="#32cd32"/>
<rect x="807" y="424" width="1" height="23" fill="#ff0000"/>
<rect x="806" y="425" width="3" height="22" fill="#ff0000"/>
<rect x="807" y="426" width="1" height="20" fill="#ff4500"/>
<rect x="811" y="413" width="1" height="27" fill="#32cd32"/>
<rect x="810" y="425" width="3" height="12" fill="#32cd32"/>
<rect x="815" y="430" width="1" height="6" fill="#ff0000"/>
<rect x="814" y="433" width="3" height="3" fill="#ff0000"/>
<rect x="815" y="434" width="1" height="1" fill="#ff4500"/>
<rect x="819" y="425" width="1" height="14" fill="#32cd32"/>
<rect x="818" y="432" width="3" height="4" fill="#32cd32"/>
<rect x="823" y="422" width="1" height="21" fill="#ff0000"/>
<rect x="822" y="423" width="3" height="13" fill="#ff0000"/>
<rect x="823" y="424" width="1" height="11" fill="#ff4500"/>
<rect x="827" y="422" width="1" height="21" fill="#32cd32"/>
<rect x="826" y="426" width="3" height="9" fill="#32cd32"/>
<rect x="831" y="431" width="1" height="13" fill="#ff0000"/>
<rect x="830" y="436" width="3" height="2" fill="#ff0000"/>
<rect x="835" y="425" width="1" height="19" fill="#ff0000"/>
<rect x="834" y="426" width="3" height="10" fill="#ff0000"/>
<rect x="835" y="427" width="1" height="8" fill="#ff4500"/>
<rect x="839" y="425" width="1" height="5" fill="#32cd32"/>
<rect x="838" y="426" width="3" height="4" fill="#32cd32"/>
<rect x="843" y="405" width="1" height="26" fill="#ff0000"/>
<rect x="842" y="417" width="3" height="13" fill="#ff0000"/>
<rect x="843" y="418" width="1" height="11" fill="#ff4500"/>
<rect x="847" y="414" width="1" height="8" fill="#ff0000"/>
<rect x="846" y="415" width="3" height="2" fill="#ff0000"/>
<rect x="851" y="415" width="1" height="17" fill="#32cd32"/>
<rect x="850" y="415" width="3" height="16" fill="#32cd32"/>
<rect x="855" y="366" width="1" height="70" fill="#ff0000"/>
<rect x="854" y="366" width="3" height="66" fill="#ff0000"/>
<rect x="855" y="367" width="1" height="64" fill="#ff4500"/>
<rect x="859" y="359" width="1" height="24" fill="#ff0000"/>
<rect x="858" y="366" width="3" height="1" fill="#ff0000"/>
<rect x="863" y="364" width="1" height="7" fill="#32cd32"/>
<rect x="862" y="366" width="3" height="2" fill="#32cd32"/>
<rect x="867" y="344" width="1" height="29" fill="#ff0000"/>
<rect x="866" y="351" width="3" height="19" fill="#ff0000"/>
<rect x="867" y="352" width="1" height="17" fill="#ff4500"/>
<rect x="871" y="337" width="1" height="26" fill="#ff0000"/>
<rect x="870" y="339" width="3" height="13" fill="#ff0000"/>
<rect x="871" y="340" width="1" height="11" fill="#ff4500"/>
<rect x="875" y="329" width="1" height="24" fill="#32cd32"/>
<rect x="874" y="339" width="3" height="11" fill="#32cd32"/>
<rect x="879" y="338" width="1" height="21" fill="#32cd32"/>
<rect x="878" y="349" width="3" height="2" fill="#32cd32"/>
<rect x="883" y="349" width="1" height="24" fill="#32cd32"/>
<rect x="882" y="350" width="3" height="14" fill="#32cd32"/>
<rect x="887" y="362" width="1" height="4" fill="#ff0000"/>
<rect x="886" y="363" width="3" height="1" fill="#ff0000"/>
<rect x="891" y="355" width="1" height="12" fill="#32cd32"/>
<rect x="890" y="365" width="3" height="2" fill="#32cd32"/>
<rect x="895" y="352" width="1" height="16" fill="#ff0000"/>
<rect x="894" y="358" width="3" height="9" fill="#ff0000"/>
<rect x="895" y="359" width="1" height="7" fill="#ff4500"/>
<rect x="899" y="356" width="1" height="11" fill="#ff0000"/>
<rect x="898" y="358" width="3" height="1" fill="#ff0000"/>
<rect x="903" y="349" width="1" height="13" fill="#ff0000"/>
<rect x="902" y="351" width="3" height="8" fill="#ff0000"/>
<rect x="903" y="352" width="1" height="6" fill="#ff4500"/>
<rect x="907" y="333" width="1" height="22" fill="#ff0000"/>
<rect x="906" y="348" width="3" height="4" fill="#ff0000"/>
<rect x="907" y="349" width="1" height="2" fill="#ff4500"/>
<rect x="911" y="345" width="1" height="10" fill="#32cd32"/>
<rect x="910" y="347" width="3" height="6" fill="#32cd32"/>
<rect x="915" y="349" width="1" height="17" fill="#32cd32"/>
<rect x="914" y="353" width="3" height="9" fill="#32cd32"/>
<rect x="919" y="339" width="1" height="28" fill="#ff0000"/>
<rect x="918" y="342" width="3" height="20" fill="#ff0000"/>
<rect x="919" y="343" width="1" height="18" fill="#ff4500"/>
<rect x="923" y="338" width="1" height="12" fill="#32cd32"/>
<rect x="922" y="342" width="3" height="2" fill="#32cd32"/>
</g>
<rect x="4" y="42" width="223" height="61" fill="#ffffff"/>
<rect x="6" y="44" width="52" height="24" fill="url(#gtop)"/>
<rect x="173" y="44" width="52" height="24" fill="url(#gtop)"/>
<rect x="6" y="68" width="109" height="33" fill="url(#gbot)"/>
<rect x="117" y="68" width="108" height="33" fill="url(#gbot)"/>
<rect x="6" y="44" width="52" height="1" fill="#0000b4"/>
<rect x="6" y="44" width="1" height="24" fill="#0000b4"/>
<rect x="57" y="44" width="1" height="24" fill="#0000b4"/>
<rect x="173" y="44" width="52" height="1" fill="#0000b4"/>
<rect x="173" y="44" width="1" height="24" fill="#0000b4"/>
<rect x="224" y="44" width="1" height="24" fill="#0000b4"/>
<rect x="6" y="68" width="109" height="1" fill="#0000b4"/>
<rect x="117" y="68" width="108" height="1" fill="#0000b4"/>
<rect x="6" y="100" width="109" height="1" fill="#00008c"/>
<rect x="117" y="100" width="108" height="1" fill="#00008c"/>
<rect x="10" y="68" width="44" height="1" fill="#8a8aff"/>
<rect x="177" y="68" width="44" height="1" fill="#8a8aff"/>
<rect x="58" y="44" width="115" height="24" fill="#ffffff"/>
<rect x="60" y="44" width="111" height="22" fill="#b4b4b4"/>
<rect x="61" y="45" width="109" height="20" fill="#ffffff"/>
<rect x="62" y="46" width="18" height="18" fill="url(#gbtn)"/>
<rect x="81" y="45" width="1" height="20" fill="#b4b4b4"/>
<rect x="151" y="46" width="18" height="18" fill="url(#gbtn)"/>
<rect x="150" y="45" width="1" height="20" fill="#b4b4b4"/>
<polygon points="68,53 74,53 71,56.5" fill="#5468c8" shape-rendering="auto"/>
<polygon points="157,56.5 163,56.5 160,53" fill="#5468c8" shape-rendering="auto"/>
<text x="122.6" y="59" font-size="12" fill="#000" textLength="23" lengthAdjust="spacingAndGlyphs">3.00</text>
<text x="18.8" y="60" font-size="12.5" fill="#ffffff" textLength="25" lengthAdjust="spacingAndGlyphs">SELL</text>
<text x="186.8" y="60" font-size="12.5" fill="#ffffff" textLength="22.8" lengthAdjust="spacingAndGlyphs">BUY</text>
<text x="26" y="96" font-size="13" fill="#ffffff" textLength="23.4" lengthAdjust="spacingAndGlyphs" font-weight="bold">6.47</text>
<text x="53.5" y="96" font-size="35.5" fill="#ffffff" textLength="36.5" lengthAdjust="spacingAndGlyphs">88</text>
<text x="93" y="80" font-size="11.5" fill="#ffffff" textLength="7" lengthAdjust="spacingAndGlyphs" font-weight="bold">2</text>
<text x="136.5" y="96" font-size="13" fill="#ffffff" textLength="23.2" lengthAdjust="spacingAndGlyphs" font-weight="bold">6.48</text>
<text x="164.5" y="96" font-size="35.5" fill="#ffffff" textLength="36" lengthAdjust="spacingAndGlyphs">15</text>
<text x="205" y="80" font-size="11.5" fill="#ffffff" textLength="6.5" lengthAdjust="spacingAndGlyphs" font-weight="bold">2</text>
<polygon points="6,35 13,35 9.5,31" fill="#000" shape-rendering="auto"/>
<text x="18.2" y="36" font-size="9.3" fill="#000" textLength="65.5" lengthAdjust="spacingAndGlyphs">USDCNH,Daily</text>
<text x="90" y="36" font-size="9.3" fill="#000" textLength="140.5" lengthAdjust="spacingAndGlyphs">6.48137 6.48499 6.47429 6.47879</text>
<rect x="2" y="24" width="1164" height="1" fill="#000"/>
<rect x="2" y="484" width="1164" height="1" fill="#000"/>
<rect x="2" y="24" width="1" height="461" fill="#000"/>
<rect x="1165" y="24" width="1" height="461" fill="#000"/>
<rect x="2" y="486" width="1164" height="1" fill="#000"/>
<rect x="2" y="570" width="1164" height="1" fill="#000"/>
<rect x="2" y="486" width="1" height="85" fill="#000"/>
<rect x="1165" y="486" width="1" height="85" fill="#000"/>
<rect x="2" y="572" width="1164" height="1" fill="#000"/>
<rect x="2" y="659" width="1164" height="1" fill="#000"/>
<rect x="2" y="572" width="1" height="88" fill="#000"/>
<rect x="1165" y="572" width="1" height="88" fill="#000"/>
<rect x="1166" y="52" width="2" height="1" fill="#000"/>
<text x="1170.3" y="56" font-size="9.3" fill="#000" textLength="34.6" lengthAdjust="spacingAndGlyphs">6.76840</text>
<rect x="1166" y="85" width="2" height="1" fill="#000"/>
<text x="1170.3" y="89" font-size="9.3" fill="#000" textLength="34.6" lengthAdjust="spacingAndGlyphs">6.73515</text>
<rect x="1166" y="118" width="2" height="1" fill="#000"/>
<text x="1170.3" y="122" font-size="9.3" fill="#000" textLength="34.6" lengthAdjust="spacingAndGlyphs">6.70285</text>
<rect x="1166" y="151" width="2" height="1" fill="#000"/>
<text x="1170.3" y="155" font-size="9.3" fill="#000" textLength="34.6" lengthAdjust="spacingAndGlyphs">6.67055</text>
<rect x="1166" y="184" width="2" height="1" fill="#000"/>
<text x="1170.3" y="188" font-size="9.3" fill="#000" textLength="34.6" lengthAdjust="spacingAndGlyphs">6.63730</text>
<rect x="1166" y="217" width="2" height="1" fill="#000"/>
<text x="1170.3" y="221" font-size="9.3" fill="#000" textLength="34.6" lengthAdjust="spacingAndGlyphs">6.60500</text>
<rect x="1166" y="250" width="2" height="1" fill="#000"/>
<text x="1170.3" y="254" font-size="9.3" fill="#000" textLength="34.6" lengthAdjust="spacingAndGlyphs">6.57170</text>
<rect x="1166" y="283" width="2" height="1" fill="#000"/>
<text x="1170.3" y="287" font-size="9.3" fill="#000" textLength="34.6" lengthAdjust="spacingAndGlyphs">6.53945</text>
<rect x="1166" y="316" width="2" height="1" fill="#000"/>
<text x="1170.3" y="320" font-size="9.3" fill="#000" textLength="34.6" lengthAdjust="spacingAndGlyphs">6.50715</text>
<rect x="1166" y="349" width="2" height="1" fill="#000"/>
<text x="1170.3" y="353" font-size="9.3" fill="#000" textLength="34.6" lengthAdjust="spacingAndGlyphs">6.47550</text>
<rect x="1166" y="382" width="2" height="1" fill="#000"/>
<text x="1170.3" y="386" font-size="9.3" fill="#000" textLength="34.6" lengthAdjust="spacingAndGlyphs">6.44160</text>
<rect x="1166" y="415" width="2" height="1" fill="#000"/>
<text x="1170.3" y="419" font-size="9.3" fill="#000" textLength="34.6" lengthAdjust="spacingAndGlyphs">6.40835</text>
<rect x="1166" y="448" width="2" height="1" fill="#000"/>
<text x="1170.3" y="452" font-size="9.3" fill="#000" textLength="34.6" lengthAdjust="spacingAndGlyphs">6.37605</text>
<rect x="1166" y="481" width="2" height="1" fill="#000"/>
<text x="1170.3" y="485" font-size="9.3" fill="#000" textLength="34.6" lengthAdjust="spacingAndGlyphs">6.34375</text>
<rect x="1167" y="243" width="40" height="11" fill="#ff0000"/>
<text x="1170.3" y="252" font-size="9.3" fill="#ffffff" textLength="34.6" lengthAdjust="spacingAndGlyphs">6.57314</text>
<rect x="1167" y="302" width="40" height="11" fill="#ff0000"/>
<text x="1170.3" y="311" font-size="9.3" fill="#ffffff" textLength="34.6" lengthAdjust="spacingAndGlyphs">6.51483</text>
<rect x="1167" y="339" width="40" height="11" fill="#000000"/>
<text x="1170.3" y="348" font-size="9.3" fill="#ffffff" textLength="34.6" lengthAdjust="spacingAndGlyphs">6.47879</text>
<rect x="1167" y="367" width="40" height="11" fill="#00ff00"/>
<text x="1170.3" y="376" font-size="9.3" fill="#ffffff" textLength="34.6" lengthAdjust="spacingAndGlyphs">6.45059</text>
<rect x="1167" y="418" width="40" height="11" fill="#0000ff"/>
<text x="1170.3" y="427" font-size="9.3" fill="#ffffff" textLength="34.6" lengthAdjust="spacingAndGlyphs">6.40019</text>
<rect x="1167" y="468" width="40" height="11" fill="#0000ff"/>
<text x="1170.3" y="477" font-size="9.3" fill="#ffffff" textLength="34.6" lengthAdjust="spacingAndGlyphs">6.35078</text>
<rect x="1165" y="349" width="42" height="1" fill="#000"/>
<g clip-path="url(#cmacd)">
<rect x="2" y="519" width="3" height="45" fill="#c0c0c0"/>
<rect x="6" y="519" width="3" height="42" fill="#c0c0c0"/>
<rect x="10" y="519" width="3" height="37" fill="#c0c0c0"/>
<rect x="14" y="519" width="3" height="38" fill="#c0c0c0"/>
<rect x="18" y="519" width="3" height="39" fill="#c0c0c0"/>
<rect x="22" y="519" width="3" height="39" fill="#c0c0c0"/>
<rect x="26" y="519" width="3" height="40" fill="#c0c0c0"/>
<rect x="30" y="519" width="3" height="40" fill="#c0c0c0"/>
<rect x="34" y="519" width="3" height="44" fill="#c0c0c0"/>
<rect x="38" y="519" width="3" height="47" fill="#c0c0c0"/>
<rect x="42" y="519" width="3" height="46" fill="#c0c0c0"/>
<rect x="46" y="519" width="3" height="45" fill="#c0c0c0"/>
<rect x="50" y="519" width="3" height="44" fill="#c0c0c0"/>
<rect x="54" y="519" width="3" height="39" fill="#c0c0c0"/>
<rect x="58" y="519" width="3" height="35" fill="#c0c0c0"/>
<rect x="62" y="519" width="3" height="29" fill="#c0c0c0"/>
<rect x="66" y="519" width="3" height="24" fill="#c0c0c0"/>
<rect x="70" y="519" width="3" height="23" fill="#c0c0c0"/>
<rect x="74" y="519" width="3" height="22" fill="#c0c0c0"/>
<rect x="78" y="519" width="3" height="21" fill="#c0c0c0"/>
<rect x="82" y="519" width="3" height="21" fill="#c0c0c0"/>
<rect x="86" y="519" width="3" height="25" fill="#c0c0c0"/>
<rect x="90" y="519" width="3" height="31" fill="#c0c0c0"/>
<rect x="94" y="519" width="3" height="37" fill="#c0c0c0"/>
<rect x="98" y="519" width="3" height="42" fill="#c0c0c0"/>
<rect x="102" y="519" width="3" height="41" fill="#c0c0c0"/>
<rect x="106" y="519" width="3" height="42" fill="#c0c0c0"/>
<rect x="110" y="519" width="3" height="41" fill="#c0c0c0"/>
<rect x="114" y="519" width="3" height="42" fill="#c0c0c0"/>
<rect x="118" y="519" width="3" height="41" fill="#c0c0c0"/>
<rect x="122" y="519" width="3" height="41" fill="#c0c0c0"/>
<rect x="126" y="519" width="3" height="43" fill="#c0c0c0"/>
<rect x="130" y="519" width="3" height="46" fill="#c0c0c0"/>
<rect x="134" y="519" width="3" height="48" fill="#c0c0c0"/>
<rect x="138" y="519" width="3" height="46" fill="#c0c0c0"/>
<rect x="142" y="519" width="3" height="47" fill="#c0c0c0"/>
<rect x="146" y="519" width="3" height="47" fill="#c0c0c0"/>
<rect x="150" y="519" width="3" height="44" fill="#c0c0c0"/>
<rect x="154" y="519" width="3" height="40" fill="#c0c0c0"/>
<rect x="158" y="519" width="3" height="38" fill="#c0c0c0"/>
<rect x="162" y="519" width="3" height="37" fill="#c0c0c0"/>
<rect x="166" y="519" width="3" height="36" fill="#c0c0c0"/>
<rect x="170" y="519" width="3" height="34" fill="#c0c0c0"/>
<rect x="174" y="519" width="3" height="31" fill="#c0c0c0"/>
<rect x="178" y="519" width="3" height="31" fill="#c0c0c0"/>
<rect x="182" y="519" width="3" height="31" fill="#c0c0c0"/>
<rect x="186" y="519" width="3" height="33" fill="#c0c0c0"/>
<rect x="190" y="519" width="3" height="35" fill="#c0c0c0"/>
<rect x="194" y="519" width="3" height="37" fill="#c0c0c0"/>
<rect x="198" y="519" width="3" height="38" fill="#c0c0c0"/>
<rect x="202" y="519" width="3" height="38" fill="#c0c0c0"/>
<rect x="206" y="519" width="3" height="37" fill="#c0c0c0"/>
<rect x="210" y="519" width="3" height="34" fill="#c0c0c0"/>
<rect x="214" y="519" width="3" height="32" fill="#c0c0c0"/>
<rect x="218" y="519" width="3" height="29" fill="#c0c0c0"/>
<rect x="222" y="519" width="3" height="28" fill="#c0c0c0"/>
<rect x="226" y="519" width="3" height="27" fill="#c0c0c0"/>
<rect x="230" y="519" width="3" height="28" fill="#c0c0c0"/>
<rect x="234" y="519" width="3" height="27" fill="#c0c0c0"/>
<rect x="238" y="519" width="3" height="27" fill="#c0c0c0"/>
<rect x="242" y="519" width="3" height="26" fill="#c0c0c0"/>
<rect x="246" y="519" width="3" height="23" fill="#c0c0c0"/>
<rect x="250" y="519" width="3" height="20" fill="#c0c0c0"/>
<rect x="254" y="519" width="3" height="18" fill="#c0c0c0"/>
<rect x="258" y="519" width="3" height="19" fill="#c0c0c0"/>
<rect x="262" y="519" width="3" height="19" fill="#c0c0c0"/>
<rect x="266" y="519" width="3" height="17" fill="#c0c0c0"/>
<rect x="270" y="519" width="3" height="16" fill="#c0c0c0"/>
<rect x="274" y="519" width="3" height="17" fill="#c0c0c0"/>
<rect x="278" y="519" width="3" height="18" fill="#c0c0c0"/>
<rect x="282" y="519" width="3" height="18" fill="#c0c0c0"/>
<rect x="286" y="519" width="3" height="18" fill="#c0c0c0"/>
<rect x="290" y="519" width="3" height="24" fill="#c0c0c0"/>
<rect x="294" y="519" width="3" height="29" fill="#c0c0c0"/>
<rect x="298" y="519" width="3" height="31" fill="#c0c0c0"/>
<rect x="302" y="519" width="3" height="31" fill="#c0c0c0"/>
<rect x="306" y="519" width="3" height="31" fill="#c0c0c0"/>
<rect x="310" y="519" width="3" height="30" fill="#c0c0c0"/>
<rect x="314" y="519" width="3" height="28" fill="#c0c0c0"/>
<rect x="318" y="519" width="3" height="28" fill="#c0c0c0"/>
<rect x="322" y="519" width="3" height="28" fill="#c0c0c0"/>
<rect x="326" y="519" width="3" height="26" fill="#c0c0c0"/>
<rect x="330" y="519" width="3" height="23" fill="#c0c0c0"/>
<rect x="334" y="519" width="3" height="20" fill="#c0c0c0"/>
<rect x="338" y="519" width="3" height="17" fill="#c0c0c0"/>
<rect x="342" y="519" width="3" height="16" fill="#c0c0c0"/>
<rect x="346" y="519" width="3" height="17" fill="#c0c0c0"/>
<rect x="350" y="519" width="3" height="17" fill="#c0c0c0"/>
<rect x="354" y="519" width="3" height="14" fill="#c0c0c0"/>
<rect x="358" y="519" width="3" height="11" fill="#c0c0c0"/>
<rect x="362" y="519" width="3" height="9" fill="#c0c0c0"/>
<rect x="366" y="519" width="3" height="10" fill="#c0c0c0"/>
<rect x="370" y="519" width="3" height="8" fill="#c0c0c0"/>
<rect x="374" y="519" width="3" height="8" fill="#c0c0c0"/>
<rect x="378" y="519" width="3" height="10" fill="#c0c0c0"/>
<rect x="382" y="519" width="3" height="13" fill="#c0c0c0"/>
<rect x="386" y="519" width="3" height="11" fill="#c0c0c0"/>
<rect x="390" y="519" width="3" height="12" fill="#c0c0c0"/>
<rect x="394" y="519" width="3" height="12" fill="#c0c0c0"/>
<rect x="398" y="519" width="3" height="10" fill="#c0c0c0"/>
<rect x="402" y="519" width="3" height="10" fill="#c0c0c0"/>
<rect x="406" y="519" width="3" height="10" fill="#c0c0c0"/>
<rect x="410" y="519" width="3" height="13" fill="#c0c0c0"/>
<rect x="414" y="519" width="3" height="16" fill="#c0c0c0"/>
<rect x="418" y="519" width="3" height="18" fill="#c0c0c0"/>
<rect x="422" y="519" width="3" height="20" fill="#c0c0c0"/>
<rect x="426" y="519" width="3" height="21" fill="#c0c0c0"/>
<rect x="430" y="519" width="3" height="22" fill="#c0c0c0"/>
<rect x="434" y="519" width="3" height="24" fill="#c0c0c0"/>
<rect x="438" y="519" width="3" height="23" fill="#c0c0c0"/>
<rect x="442" y="519" width="3" height="20" fill="#c0c0c0"/>
<rect x="446" y="519" width="3" height="16" fill="#c0c0c0"/>
<rect x="450" y="519" width="3" height="13" fill="#c0c0c0"/>
<rect x="454" y="519" width="3" height="10" fill="#c0c0c0"/>
<rect x="458" y="519" width="3" height="7" fill="#c0c0c0"/>
<rect x="462" y="519" width="3" height="5" fill="#c0c0c0"/>
<rect x="466" y="519" width="3" height="4" fill="#c0c0c0"/>
<rect x="470" y="519" width="3" height="3" fill="#c0c0c0"/>
<rect x="474" y="519" width="3" height="1" fill="#c0c0c0"/>
<rect x="478" y="516" width="3" height="3" fill="#c0c0c0"/>
<rect x="482" y="516" width="3" height="3" fill="#c0c0c0"/>
<rect x="486" y="515" width="3" height="4" fill="#c0c0c0"/>
<rect x="490" y="514" width="3" height="5" fill="#c0c0c0"/>
<rect x="494" y="514" width="3" height="5" fill="#c0c0c0"/>
<rect x="498" y="509" width="3" height="10" fill="#c0c0c0"/>
<rect x="502" y="506" width="3" height="13" fill="#c0c0c0"/>
<rect x="506" y="500" width="3" height="19" fill="#c0c0c0"/>
<rect x="510" y="499" width="3" height="20" fill="#c0c0c0"/>
<rect x="514" y="499" width="3" height="20" fill="#c0c0c0"/>
<rect x="518" y="501" width="3" height="18" fill="#c0c0c0"/>
<rect x="522" y="502" width="3" height="17" fill="#c0c0c0"/>
<rect x="526" y="503" width="3" height="16" fill="#c0c0c0"/>
<rect x="530" y="504" width="3" height="15" fill="#c0c0c0"/>
<rect x="534" y="505" width="3" height="14" fill="#c0c0c0"/>
<rect x="538" y="505" width="3" height="14" fill="#c0c0c0"/>
<rect x="542" y="506" width="3" height="13" fill="#c0c0c0"/>
<rect x="546" y="506" width="3" height="13" fill="#c0c0c0"/>
<rect x="550" y="506" width="3" height="13" fill="#c0c0c0"/>
<rect x="554" y="507" width="3" height="12" fill="#c0c0c0"/>
<rect x="558" y="506" width="3" height="13" fill="#c0c0c0"/>
<rect x="562" y="506" width="3" height="13" fill="#c0c0c0"/>
<rect x="566" y="503" width="3" height="16" fill="#c0c0c0"/>
<rect x="570" y="501" width="3" height="18" fill="#c0c0c0"/>
<rect x="574" y="500" width="3" height="19" fill="#c0c0c0"/>
<rect x="578" y="497" width="3" height="22" fill="#c0c0c0"/>
<rect x="582" y="494" width="3" height="25" fill="#c0c0c0"/>
<rect x="586" y="493" width="3" height="26" fill="#c0c0c0"/>
<rect x="590" y="492" width="3" height="27" fill="#c0c0c0"/>
<rect x="594" y="491" width="3" height="28" fill="#c0c0c0"/>
<rect x="598" y="491" width="3" height="28" fill="#c0c0c0"/>
<rect x="602" y="493" width="3" height="26" fill="#c0c0c0"/>
<rect x="606" y="496" width="3" height="23" fill="#c0c0c0"/>
<rect x="610" y="499" width="3" height="20" fill="#c0c0c0"/>
<rect x="614" y="499" width="3" height="20" fill="#c0c0c0"/>
<rect x="618" y="500" width="3" height="19" fill="#c0c0c0"/>
<rect x="622" y="501" width="3" height="18" fill="#c0c0c0"/>
<rect x="626" y="503" width="3" height="16" fill="#c0c0c0"/>
<rect x="630" y="505" width="3" height="14" fill="#c0c0c0"/>
<rect x="634" y="508" width="3" height="11" fill="#c0c0c0"/>
<rect x="638" y="511" width="3" height="8" fill="#c0c0c0"/>
<rect x="642" y="514" width="3" height="5" fill="#c0c0c0"/>
<rect x="646" y="516" width="3" height="3" fill="#c0c0c0"/>
<rect x="650" y="519" width="3" height="1" fill="#c0c0c0"/>
<rect x="654" y="519" width="3" height="4" fill="#c0c0c0"/>
<rect x="658" y="519" width="3" height="8" fill="#c0c0c0"/>
<rect x="662" y="519" width="3" height="11" fill="#c0c0c0"/>
<rect x="666" y="519" width="3" height="13" fill="#c0c0c0"/>
<rect x="670" y="519" width="3" height="15" fill="#c0c0c0"/>
<rect x="674" y="519" width="3" height="17" fill="#c0c0c0"/>
<rect x="678" y="519" width="3" height="19" fill="#c0c0c0"/>
<rect x="682" y="519" width="3" height="20" fill="#c0c0c0"/>
<rect x="686" y="519" width="3" height="22" fill="#c0c0c0"/>
<rect x="690" y="519" width="3" height="22" fill="#c0c0c0"/>
<rect x="694" y="519" width="3" height="22" fill="#c0c0c0"/>
<rect x="698" y="519" width="3" height="22" fill="#c0c0c0"/>
<rect x="702" y="519" width="3" height="19" fill="#c0c0c0"/>
<rect x="706" y="519" width="3" height="19" fill="#c0c0c0"/>
<rect x="710" y="519" width="3" height="19" fill="#c0c0c0"/>
<rect x="714" y="519" width="3" height="24" fill="#c0c0c0"/>
<rect x="718" y="519" width="3" height="28" fill="#c0c0c0"/>
<rect x="722" y="519" width="3" height="31" fill="#c0c0c0"/>
<rect x="726" y="519" width="3" height="32" fill="#c0c0c0"/>
<rect x="730" y="519" width="3" height="29" fill="#c0c0c0"/>
<rect x="734" y="519" width="3" height="27" fill="#c0c0c0"/>
<rect x="738" y="519" width="3" height="25" fill="#c0c0c0"/>
<rect x="742" y="519" width="3" height="25" fill="#c0c0c0"/>
<rect x="746" y="519" width="3" height="24" fill="#c0c0c0"/>
<rect x="750" y="519" width="3" height="25" fill="#c0c0c0"/>
<rect x="754" y="519" width="3" height="24" fill="#c0c0c0"/>
<rect x="758" y="519" width="3" height="24" fill="#c0c0c0"/>
<rect x="762" y="519" width="3" height="22" fill="#c0c0c0"/>
<rect x="766" y="519" width="3" height="21" fill="#c0c0c0"/>
<rect x="770" y="519" width="3" height="22" fill="#c0c0c0"/>
<rect x="774" y="519" width="3" height="23" fill="#c0c0c0"/>
<rect x="778" y="519" width="3" height="26" fill="#c0c0c0"/>
<rect x="782" y="519" width="3" height="29" fill="#c0c0c0"/>
<rect x="786" y="519" width="3" height="32" fill="#c0c0c0"/>
<rect x="790" y="519" width="3" height="35" fill="#c0c0c0"/>
<rect x="794" y="519" width="3" height="35" fill="#c0c0c0"/>
<rect x="798" y="519" width="3" height="34" fill="#c0c0c0"/>
<rect x="802" y="519" width="3" height="33" fill="#c0c0c0"/>
<rect x="806" y="519" width="3" height="30" fill="#c0c0c0"/>
<rect x="810" y="519" width="3" height="29" fill="#c0c0c0"/>
<rect x="814" y="519" width="3" height="27" fill="#c0c0c0"/>
<rect x="818" y="519" width="3" height="25" fill="#c0c0c0"/>
<rect x="822" y="519" width="3" height="23" fill="#c0c0c0"/>
<rect x="826" y="519" width="3" height="21" fill="#c0c0c0"/>
<rect x="830" y="519" width="3" height="20" fill="#c0c0c0"/>
<rect x="834" y="519" width="3" height="18" fill="#c0c0c0"/>
<rect x="838" y="519" width="3" height="16" fill="#c0c0c0"/>
<rect x="842" y="519" width="3" height="14" fill="#c0c0c0"/>
<rect x="846" y="519" width="3" height="12" fill="#c0c0c0"/>
<rect x="850" y="519" width="3" height="11" fill="#c0c0c0"/>
<rect x="854" y="519" width="3" height="5" fill="#c0c0c0"/>
<rect x="858" y="517" width="3" height="2" fill="#c0c0c0"/>
<rect x="862" y="513" width="3" height="6" fill="#c0c0c0"/>
<rect x="866" y="508" width="3" height="11" fill="#c0c0c0"/>
<rect x="870" y="504" width="3" height="15" fill="#c0c0c0"/>
<rect x="874" y="501" width="3" height="18" fill="#c0c0c0"/>
<rect x="878" y="500" width="3" height="19" fill="#c0c0c0"/>
<rect x="882" y="500" width="3" height="19" fill="#c0c0c0"/>
<rect x="886" y="500" width="3" height="19" fill="#c0c0c0"/>
<rect x="890" y="501" width="3" height="18" fill="#c0c0c0"/>
<rect x="894" y="501" width="3" height="18" fill="#c0c0c0"/>
<rect x="898" y="502" width="3" height="17" fill="#c0c0c0"/>
<rect x="902" y="502" width="3" height="17" fill="#c0c0c0"/>
<rect x="906" y="502" width="3" height="17" fill="#c0c0c0"/>
<rect x="910" y="502" width="3" height="17" fill="#c0c0c0"/>
<rect x="914" y="502" width="3" height="17" fill="#c0c0c0"/>
<rect x="918" y="502" width="3" height="17" fill="#c0c0c0"/>
<rect x="922" y="502" width="3" height="17" fill="#c0c0c0"/>
</g>
<path fill="#ff0000" d="M605 494h14v1h-14zM601 495h4v1h-4zM619 495h4v1h-4zM599 496h2v1h-2zM623 496h3v1h-3zM597 497h2v1h-2zM626 497h2v1h-2zM594 498h3v1h-3zM628 498h3v1h-3zM590 499h4v1h-4zM631 499h2v1h-2zM587 500h3v1h-3zM633 500h2v1h-2zM584 501h3v1h-3zM635 501h2v1h-2zM903 501h20v1h-20zM532 502h12v1h-12zM581 502h3v1h-3zM637 502h2v1h-2zM899 502h4v1h-4zM528 503h4v1h-4zM544 503h4v1h-4zM579 503h2v1h-2zM639 503h3v1h-3zM896 503h3v1h-3zM525 504h3v1h-3zM548 504h4v1h-4zM577 504h2v1h-2zM642 504h3v1h-3zM893 504h3v1h-3zM521 505h4v1h-4zM552 505h4v1h-4zM572 505h5v1h-5zM645 505h2v1h-2zM890 505h3v1h-3zM519 506h2v1h-2zM556 506h16v1h-16zM647 506h2v1h-2zM888 506h2v1h-2zM517 507h2v1h-2zM649 507h1v1h-1zM887 507h1v1h-1zM515 508h2v1h-2zM650 508h2v1h-2zM886 508h1v1h-1zM514 509h1v1h-1zM652 509h2v1h-2zM885 509h1v1h-1zM512 510h2v1h-2zM654 510h1v1h-1zM884 510h1v1h-1zM510 511h2v1h-2zM655 511h1v1h-1zM883 511h1v1h-1zM508 512h2v1h-2zM656 512h1v1h-1zM882 512h1v1h-1zM506 513h2v1h-2zM657 513h2v1h-2zM881 513h1v1h-1zM503 514h3v1h-3zM659 514h1v1h-1zM880 514h1v1h-1zM501 515h2v1h-2zM660 515h1v1h-1zM879 515h1v1h-1zM499 516h2v1h-2zM661 516h2v1h-2zM878 516h1v1h-1zM497 517h2v1h-2zM663 517h1v1h-1zM877 517h1v1h-1zM495 518h2v1h-2zM664 518h2v1h-2zM875 518h2v1h-2zM493 519h2v1h-2zM666 519h2v1h-2zM874 519h1v1h-1zM490 520h3v1h-3zM668 520h1v1h-1zM873 520h1v1h-1zM486 521h4v1h-4zM669 521h2v1h-2zM872 521h1v1h-1zM483 522h3v1h-3zM671 522h2v1h-2zM870 522h2v1h-2zM481 523h2v1h-2zM673 523h2v1h-2zM869 523h1v1h-1zM479 524h2v1h-2zM675 524h1v1h-1zM868 524h1v1h-1zM478 525h1v1h-1zM676 525h1v1h-1zM867 525h1v1h-1zM476 526h2v1h-2zM677 526h1v1h-1zM866 526h1v1h-1zM475 527h1v1h-1zM678 527h1v1h-1zM864 527h2v1h-2zM391 528h4v1h-4zM473 528h2v1h-2zM679 528h1v1h-1zM863 528h1v1h-1zM378 529h13v1h-13zM395 529h17v1h-17zM472 529h1v1h-1zM680 529h2v1h-2zM862 529h1v1h-1zM376 530h2v1h-2zM412 530h4v1h-4zM470 530h2v1h-2zM682 530h2v1h-2zM860 530h2v1h-2zM371 531h5v1h-5zM416 531h4v1h-4zM469 531h1v1h-1zM684 531h2v1h-2zM859 531h1v1h-1zM367 532h4v1h-4zM420 532h4v1h-4zM467 532h2v1h-2zM686 532h2v1h-2zM858 532h1v1h-1zM365 533h2v1h-2zM424 533h5v1h-5zM465 533h2v1h-2zM688 533h2v1h-2zM856 533h2v1h-2zM363 534h2v1h-2zM429 534h5v1h-5zM461 534h4v1h-4zM690 534h2v1h-2zM855 534h1v1h-1zM361 535h2v1h-2zM434 535h3v1h-3zM458 535h3v1h-3zM692 535h2v1h-2zM853 535h2v1h-2zM284 536h7v1h-7zM359 536h2v1h-2zM437 536h2v1h-2zM456 536h2v1h-2zM694 536h3v1h-3zM851 536h2v1h-2zM275 537h9v1h-9zM291 537h2v1h-2zM357 537h2v1h-2zM439 537h2v1h-2zM454 537h2v1h-2zM697 537h3v1h-3zM849 537h2v1h-2zM271 538h4v1h-4zM293 538h4v1h-4zM354 538h3v1h-3zM441 538h13v1h-13zM700 538h2v1h-2zM847 538h2v1h-2zM268 539h3v1h-3zM297 539h4v1h-4zM352 539h2v1h-2zM702 539h8v1h-8zM845 539h2v1h-2zM265 540h3v1h-3zM301 540h2v1h-2zM349 540h3v1h-3zM710 540h11v1h-11zM843 540h2v1h-2zM261 541h4v1h-4zM303 541h2v1h-2zM345 541h4v1h-4zM721 541h4v1h-4zM775 541h4v1h-4zM841 541h2v1h-2zM258 542h3v1h-3zM305 542h3v1h-3zM342 542h3v1h-3zM725 542h4v1h-4zM771 542h4v1h-4zM779 542h6v1h-6zM838 542h3v1h-3zM254 543h4v1h-4zM308 543h2v1h-2zM340 543h2v1h-2zM729 543h4v1h-4zM766 543h5v1h-5zM785 543h5v1h-5zM835 543h3v1h-3zM89 544h10v1h-10zM251 544h3v1h-3zM310 544h3v1h-3zM337 544h3v1h-3zM733 544h2v1h-2zM760 544h6v1h-6zM790 544h3v1h-3zM832 544h3v1h-3zM87 545h2v1h-2zM99 545h2v1h-2zM248 545h3v1h-3zM313 545h3v1h-3zM333 545h4v1h-4zM735 545h25v1h-25zM793 545h2v1h-2zM830 545h2v1h-2zM85 546h2v1h-2zM101 546h2v1h-2zM246 546h2v1h-2zM316 546h4v1h-4zM330 546h3v1h-3zM795 546h2v1h-2zM828 546h2v1h-2zM84 547h1v1h-1zM103 547h2v1h-2zM243 547h3v1h-3zM320 547h10v1h-10zM797 547h2v1h-2zM825 547h3v1h-3zM82 548h2v1h-2zM105 548h2v1h-2zM241 548h2v1h-2zM799 548h5v1h-5zM823 548h2v1h-2zM81 549h1v1h-1zM107 549h2v1h-2zM236 549h5v1h-5zM804 549h6v1h-6zM817 549h6v1h-6zM79 550h2v1h-2zM109 550h2v1h-2zM230 550h6v1h-6zM810 550h7v1h-7zM78 551h1v1h-1zM111 551h1v1h-1zM226 551h4v1h-4zM77 552h1v1h-1zM112 552h2v1h-2zM189 552h18v1h-18zM222 552h4v1h-4zM3 553h2v1h-2zM75 553h2v1h-2zM114 553h1v1h-1zM186 553h3v1h-3zM207 553h15v1h-15zM5 554h2v1h-2zM74 554h1v1h-1zM115 554h2v1h-2zM184 554h2v1h-2zM7 555h2v1h-2zM73 555h1v1h-1zM117 555h2v1h-2zM181 555h3v1h-3zM9 556h4v1h-4zM71 556h2v1h-2zM119 556h2v1h-2zM178 556h3v1h-3zM13 557h6v1h-6zM69 557h2v1h-2zM121 557h2v1h-2zM176 557h2v1h-2zM19 558h7v1h-7zM67 558h2v1h-2zM123 558h2v1h-2zM173 558h3v1h-3zM26 559h14v1h-14zM64 559h3v1h-3zM125 559h2v1h-2zM171 559h2v1h-2zM40 560h8v1h-8zM60 560h4v1h-4zM127 560h3v1h-3zM169 560h2v1h-2zM48 561h5v1h-5zM58 561h2v1h-2zM130 561h3v1h-3zM167 561h2v1h-2zM53 562h5v1h-5zM133 562h13v1h-13zM161 562h6v1h-6zM146 563h15v1h-15z"/>
<text x="7.7" y="499" font-size="9.3" fill="#000" textLength="147" lengthAdjust="spacingAndGlyphs">MACD(12,26,9) 0.014248 0.014581</text>
<rect x="1166" y="487" width="2" height="1" fill="#000"/>
<text x="1169" y="497" font-size="9.3" fill="#000" textLength="38" lengthAdjust="spacingAndGlyphs">0.025609</text>
<rect x="1166" y="519" width="2" height="1" fill="#000"/>
<text x="1169" y="523" font-size="9.3" fill="#000" textLength="18" lengthAdjust="spacingAndGlyphs">0.00</text>
<rect x="1166" y="569" width="2" height="1" fill="#000"/>
<text x="1169" y="567" font-size="9.3" fill="#000" textLength="42" lengthAdjust="spacingAndGlyphs">-0.040386</text>
<rect x="4" y="599" width="3" height="1" fill="#c0c0c0"/>
<rect x="10" y="599" width="3" height="1" fill="#c0c0c0"/>
<rect x="16" y="599" width="3" height="1" fill="#c0c0c0"/>
<rect x="22" y="599" width="3" height="1" fill="#c0c0c0"/>
<rect x="28" y="599" width="3" height="1" fill="#c0c0c0"/>
<rect x="34" y="599" width="3" height="1" fill="#c0c0c0"/>
<rect x="40" y="599" width="3" height="1" fill="#c0c0c0"/>
<rect x="46" y="599" width="3" height="1" fill="#c0c0c0"/>
<rect x="52" y="599" width="3" height="1" fill="#c0c0c0"/>
<rect x="58" y="599" width="3" height="1" fill="#c0c0c0"/>
<rect x="64" y="599" width="3" height="1" fill="#c0c0c0"/>
<rect x="70" y="599" width="3" height="1" fill="#c0c0c0"/>
<rect x="76" y="599" width="3" height="1" fill="#c0c0c0"/>
<rect x="82" y="599" width="3" height="1" fill="#c0c0c0"/>
<rect x="88" y="599" width="3" height="1" fill="#c0c0c0"/>
<rect x="94" y="599" width="3" height="1" fill="#c0c0c0"/>
<rect x="100" y="599" width="3" height="1" fill="#c0c0c0"/>
<rect x="106" y="599" width="3" height="1" fill="#c0c0c0"/>
<rect x="112" y="599" width="3" height="1" fill="#c0c0c0"/>
<rect x="118" y="599" width="3" height="1" fill="#c0c0c0"/>
<rect x="124" y="599" width="3" height="1" fill="#c0c0c0"/>
<rect x="130" y="599" width="3" height="1" fill="#c0c0c0"/>
<rect x="136" y="599" width="3" height="1" fill="#c0c0c0"/>
<rect x="142" y="599" width="3" height="1" fill="#c0c0c0"/>
<rect x="148" y="599" width="3" height="1" fill="#c0c0c0"/>
<rect x="154" y="599" width="3" height="1" fill="#c0c0c0"/>
<rect x="160" y="599" width="3" height="1" fill="#c0c0c0"/>
<rect x="166" y="599" width="3" height="1" fill="#c0c0c0"/>
<rect x="172" y="599" width="3" height="1" fill="#c0c0c0"/>
<rect x="178" y="599" width="3" height="1" fill="#c0c0c0"/>
<rect x="184" y="599" width="3" height="1" fill="#c0c0c0"/>
<rect x="190" y="599" width="3" height="1" fill="#c0c0c0"/>
<rect x="196" y="599" width="3" height="1" fill="#c0c0c0"/>
<rect x="202" y="599" width="3" height="1" fill="#c0c0c0"/>
<rect x="208" y="599" width="3" height="1" fill="#c0c0c0"/>
<rect x="214" y="599" width="3" height="1" fill="#c0c0c0"/>
<rect x="220" y="599" width="3" height="1" fill="#c0c0c0"/>
<rect x="226" y="599" width="3" height="1" fill="#c0c0c0"/>
<rect x="232" y="599" width="3" height="1" fill="#c0c0c0"/>
<rect x="238" y="599" width="3" height="1" fill="#c0c0c0"/>
<rect x="244" y="599" width="3" height="1" fill="#c0c0c0"/>
<rect x="250" y="599" width="3" height="1" fill="#c0c0c0"/>
<rect x="256" y="599" width="3" height="1" fill="#c0c0c0"/>
<rect x="262" y="599" width="3" height="1" fill="#c0c0c0"/>
<rect x="268" y="599" width="3" height="1" fill="#c0c0c0"/>
<rect x="274" y="599" width="3" height="1" fill="#c0c0c0"/>
<rect x="280" y="599" width="3" height="1" fill="#c0c0c0"/>
<rect x="286" y="599" width="3" height="1" fill="#c0c0c0"/>
<rect x="292" y="599" width="3" height="1" fill="#c0c0c0"/>
<rect x="298" y="599" width="3" height="1" fill="#c0c0c0"/>
<rect x="304" y="599" width="3" height="1" fill="#c0c0c0"/>
<rect x="310" y="599" width="3" height="1" fill="#c0c0c0"/>
<rect x="316" y="599" width="3" height="1" fill="#c0c0c0"/>
<rect x="322" y="599" width="3" height="1" fill="#c0c0c0"/>
<rect x="328" y="599" width="3" height="1" fill="#c0c0c0"/>
<rect x="334" y="599" width="3" height="1" fill="#c0c0c0"/>
<rect x="340" y="599" width="3" height="1" fill="#c0c0c0"/>
<rect x="346" y="599" width="3" height="1" fill="#c0c0c0"/>
<rect x="352" y="599" width="3" height="1" fill="#c0c0c0"/>
<rect x="358" y="599" width="3" height="1" fill="#c0c0c0"/>
<rect x="364" y="599" width="3" height="1" fill="#c0c0c0"/>
<rect x="370" y="599" width="3" height="1" fill="#c0c0c0"/>
<rect x="376" y="599" width="3" height="1" fill="#c0c0c0"/>
<rect x="382" y="599" width="3" height="1" fill="#c0c0c0"/>
<rect x="388" y="599" width="3" height="1" fill="#c0c0c0"/>
<rect x="394" y="599" width="3" height="1" fill="#c0c0c0"/>
<rect x="400" y="599" width="3" height="1" fill="#c0c0c0"/>
<rect x="406" y="599" width="3" height="1" fill="#c0c0c0"/>
<rect x="412" y="599" width="3" height="1" fill="#c0c0c0"/>
<rect x="418" y="599" width="3" height="1" fill="#c0c0c0"/>
<rect x="424" y="599" width="3" height="1" fill="#c0c0c0"/>
<rect x="430" y="599" width="3" height="1" fill="#c0c0c0"/>
<rect x="436" y="599" width="3" height="1" fill="#c0c0c0"/>
<rect x="442" y="599" width="3" height="1" fill="#c0c0c0"/>
<rect x="448" y="599" width="3" height="1" fill="#c0c0c0"/>
<rect x="454" y="599" width="3" height="1" fill="#c0c0c0"/>
<rect x="460" y="599" width="3" height="1" fill="#c0c0c0"/>
<rect x="466" y="599" width="3" height="1" fill="#c0c0c0"/>
<rect x="472" y="599" width="3" height="1" fill="#c0c0c0"/>
<rect x="478" y="599" width="3" height="1" fill="#c0c0c0"/>
<rect x="484" y="599" width="3" height="1" fill="#c0c0c0"/>
<rect x="490" y="599" width="3" height="1" fill="#c0c0c0"/>
<rect x="496" y="599" width="3" height="1" fill="#c0c0c0"/>
<rect x="502" y="599" width="3" height="1" fill="#c0c0c0"/>
<rect x="508" y="599" width="3" height="1" fill="#c0c0c0"/>
<rect x="514" y="599" width="3" height="1" fill="#c0c0c0"/>
<rect x="520" y="599" width="3" height="1" fill="#c0c0c0"/>
<rect x="526" y="599" width="3" height="1" fill="#c0c0c0"/>
<rect x="532" y="599" width="3" height="1" fill="#c0c0c0"/>
<rect x="538" y="599" width="3" height="1" fill="#c0c0c0"/>
<rect x="544" y="599" width="3" height="1" fill="#c0c0c0"/>
<rect x="550" y="599" width="3" height="1" fill="#c0c0c0"/>
<rect x="556" y="599" width="3" height="1" fill="#c0c0c0"/>
<rect x="562" y="599" width="3" height="1" fill="#c0c0c0"/>
<rect x="568" y="599" width="3" height="1" fill="#c0c0c0"/>
<rect x="574" y="599" width="3" height="1" fill="#c0c0c0"/>
<rect x="580" y="599" width="3" height="1" fill="#c0c0c0"/>
<rect x="586" y="599" width="3" height="1" fill="#c0c0c0"/>
<rect x="592" y="599" width="3" height="1" fill="#c0c0c0"/>
<rect x="598" y="599" width="3" height="1" fill="#c0c0c0"/>
<rect x="604" y="599" width="3" height="1" fill="#c0c0c0"/>
<rect x="610" y="599" width="3" height="1" fill="#c0c0c0"/>
<rect x="616" y="599" width="3" height="1" fill="#c0c0c0"/>
<rect x="622" y="599" width="3" height="1" fill="#c0c0c0"/>
<rect x="628" y="599" width="3" height="1" fill="#c0c0c0"/>
<rect x="634" y="599" width="3" height="1" fill="#c0c0c0"/>
<rect x="640" y="599" width="3" height="1" fill="#c0c0c0"/>
<rect x="646" y="599" width="3" height="1" fill="#c0c0c0"/>
<rect x="652" y="599" width="3" height="1" fill="#c0c0c0"/>
<rect x="658" y="599" width="3" height="1" fill="#c0c0c0"/>
<rect x="664" y="599" width="3" height="1" fill="#c0c0c0"/>
<rect x="670" y="599" width="3" height="1" fill="#c0c0c0"/>
<rect x="676" y="599" width="3" height="1" fill="#c0c0c0"/>
<rect x="682" y="599" width="3" height="1" fill="#c0c0c0"/>
<rect x="688" y="599" width="3" height="1" fill="#c0c0c0"/>
<rect x="694" y="599" width="3" height="1" fill="#c0c0c0"/>
<rect x="700" y="599" width="3" height="1" fill="#c0c0c0"/>
<rect x="706" y="599" width="3" height="1" fill="#c0c0c0"/>
<rect x="712" y="599" width="3" height="1" fill="#c0c0c0"/>
<rect x="718" y="599" width="3" height="1" fill="#c0c0c0"/>
<rect x="724" y="599" width="3" height="1" fill="#c0c0c0"/>
<rect x="730" y="599" width="3" height="1" fill="#c0c0c0"/>
<rect x="736" y="599" width="3" height="1" fill="#c0c0c0"/>
<rect x="742" y="599" width="3" height="1" fill="#c0c0c0"/>
<rect x="748" y="599" width="3" height="1" fill="#c0c0c0"/>
<rect x="754" y="599" width="3" height="1" fill="#c0c0c0"/>
<rect x="760" y="599" width="3" height="1" fill="#c0c0c0"/>
<rect x="766" y="599" width="3" height="1" fill="#c0c0c0"/>
<rect x="772" y="599" width="3" height="1" fill="#c0c0c0"/>
<rect x="778" y="599" width="3" height="1" fill="#c0c0c0"/>
<rect x="784" y="599" width="3" height="1" fill="#c0c0c0"/>
<rect x="790" y="599" width="3" height="1" fill="#c0c0c0"/>
<rect x="796" y="599" width="3" height="1" fill="#c0c0c0"/>
<rect x="802" y="599" width="3" height="1" fill="#c0c0c0"/>
<rect x="808" y="599" width="3" height="1" fill="#c0c0c0"/>
<rect x="814" y="599" width="3" height="1" fill="#c0c0c0"/>
<rect x="820" y="599" width="3" height="1" fill="#c0c0c0"/>
<rect x="826" y="599" width="3" height="1" fill="#c0c0c0"/>
<rect x="832" y="599" width="3" height="1" fill="#c0c0c0"/>
<rect x="838" y="599" width="3" height="1" fill="#c0c0c0"/>
<rect x="844" y="599" width="3" height="1" fill="#c0c0c0"/>
<rect x="850" y="599" width="3" height="1" fill="#c0c0c0"/>
<rect x="856" y="599" width="3" height="1" fill="#c0c0c0"/>
<rect x="862" y="599" width="3" height="1" fill="#c0c0c0"/>
<rect x="868" y="599" width="3" height="1" fill="#c0c0c0"/>
<rect x="874" y="599" width="3" height="1" fill="#c0c0c0"/>
<rect x="880" y="599" width="3" height="1" fill="#c0c0c0"/>
<rect x="886" y="599" width="3" height="1" fill="#c0c0c0"/>
<rect x="892" y="599" width="3" height="1" fill="#c0c0c0"/>
<rect x="898" y="599" width="3" height="1" fill="#c0c0c0"/>
<rect x="904" y="599" width="3" height="1" fill="#c0c0c0"/>
<rect x="910" y="599" width="3" height="1" fill="#c0c0c0"/>
<rect x="916" y="599" width="3" height="1" fill="#c0c0c0"/>
<rect x="922" y="599" width="3" height="1" fill="#c0c0c0"/>
<rect x="928" y="599" width="3" height="1" fill="#c0c0c0"/>
<rect x="934" y="599" width="3" height="1" fill="#c0c0c0"/>
<rect x="940" y="599" width="3" height="1" fill="#c0c0c0"/>
<rect x="946" y="599" width="3" height="1" fill="#c0c0c0"/>
<rect x="952" y="599" width="3" height="1" fill="#c0c0c0"/>
<rect x="958" y="599" width="3" height="1" fill="#c0c0c0"/>
<rect x="964" y="599" width="3" height="1" fill="#c0c0c0"/>
<rect x="970" y="599" width="3" height="1" fill="#c0c0c0"/>
<rect x="976" y="599" width="3" height="1" fill="#c0c0c0"/>
<rect x="982" y="599" width="3" height="1" fill="#c0c0c0"/>
<rect x="988" y="599" width="3" height="1" fill="#c0c0c0"/>
<rect x="994" y="599" width="3" height="1" fill="#c0c0c0"/>
<rect x="1000" y="599" width="3" height="1" fill="#c0c0c0"/>
<rect x="1006" y="599" width="3" height="1" fill="#c0c0c0"/>
<rect x="1012" y="599" width="3" height="1" fill="#c0c0c0"/>
<rect x="1018" y="599" width="3" height="1" fill="#c0c0c0"/>
<rect x="1024" y="599" width="3" height="1" fill="#c0c0c0"/>
<rect x="1030" y="599" width="3" height="1" fill="#c0c0c0"/>
<rect x="1036" y="599" width="3" height="1" fill="#c0c0c0"/>
<rect x="1042" y="599" width="3" height="1" fill="#c0c0c0"/>
<rect x="1048" y="599" width="3" height="1" fill="#c0c0c0"/>
<rect x="1054" y="599" width="3" height="1" fill="#c0c0c0"/>
<rect x="1060" y="599" width="3" height="1" fill="#c0c0c0"/>
<rect x="1066" y="599" width="3" height="1" fill="#c0c0c0"/>
<rect x="1072" y="599" width="3" height="1" fill="#c0c0c0"/>
<rect x="1078" y="599" width="3" height="1" fill="#c0c0c0"/>
<rect x="1084" y="599" width="3" height="1" fill="#c0c0c0"/>
<rect x="1090" y="599" width="3" height="1" fill="#c0c0c0"/>
<rect x="1096" y="599" width="3" height="1" fill="#c0c0c0"/>
<rect x="1102" y="599" width="3" height="1" fill="#c0c0c0"/>
<rect x="1108" y="599" width="3" height="1" fill="#c0c0c0"/>
<rect x="1114" y="599" width="3" height="1" fill="#c0c0c0"/>
<rect x="1120" y="599" width="3" height="1" fill="#c0c0c0"/>
<rect x="1126" y="599" width="3" height="1" fill="#c0c0c0"/>
<rect x="1132" y="599" width="3" height="1" fill="#c0c0c0"/>
<rect x="1138" y="599" width="3" height="1" fill="#c0c0c0"/>
<rect x="1144" y="599" width="3" height="1" fill="#c0c0c0"/>
<rect x="1150" y="599" width="3" height="1" fill="#c0c0c0"/>
<rect x="1156" y="599" width="3" height="1" fill="#c0c0c0"/>
<rect x="1162" y="599" width="3" height="1" fill="#c0c0c0"/>
<rect x="4" y="633" width="3" height="1" fill="#c0c0c0"/>
<rect x="10" y="633" width="3" height="1" fill="#c0c0c0"/>
<rect x="16" y="633" width="3" height="1" fill="#c0c0c0"/>
<rect x="22" y="633" width="3" height="1" fill="#c0c0c0"/>
<rect x="28" y="633" width="3" height="1" fill="#c0c0c0"/>
<rect x="34" y="633" width="3" height="1" fill="#c0c0c0"/>
<rect x="40" y="633" width="3" height="1" fill="#c0c0c0"/>
<rect x="46" y="633" width="3" height="1" fill="#c0c0c0"/>
<rect x="52" y="633" width="3" height="1" fill="#c0c0c0"/>
<rect x="58" y="633" width="3" height="1" fill="#c0c0c0"/>
<rect x="64" y="633" width="3" height="1" fill="#c0c0c0"/>
<rect x="70" y="633" width="3" height="1" fill="#c0c0c0"/>
<rect x="76" y="633" width="3" height="1" fill="#c0c0c0"/>
<rect x="82" y="633" width="3" height="1" fill="#c0c0c0"/>
<rect x="88" y="633" width="3" height="1" fill="#c0c0c0"/>
<rect x="94" y="633" width="3" height="1" fill="#c0c0c0"/>
<rect x="100" y="633" width="3" height="1" fill="#c0c0c0"/>
<rect x="106" y="633" width="3" height="1" fill="#c0c0c0"/>
<rect x="112" y="633" width="3" height="1" fill="#c0c0c0"/>
<rect x="118" y="633" width="3" height="1" fill="#c0c0c0"/>
<rect x="124" y="633" width="3" height="1" fill="#c0c0c0"/>
<rect x="130" y="633" width="3" height="1" fill="#c0c0c0"/>
<rect x="136" y="633" width="3" height="1" fill="#c0c0c0"/>
<rect x="142" y="633" width="3" height="1" fill="#c0c0c0"/>
<rect x="148" y="633" width="3" height="1" fill="#c0c0c0"/>
<rect x="154" y="633" width="3" height="1" fill="#c0c0c0"/>
<rect x="160" y="633" width="3" height="1" fill="#c0c0c0"/>
<rect x="166" y="633" width="3" height="1" fill="#c0c0c0"/>
<rect x="172" y="633" width="3" height="1" fill="#c0c0c0"/>
<rect x="178" y="633" width="3" height="1" fill="#c0c0c0"/>
<rect x="184" y="633" width="3" height="1" fill="#c0c0c0"/>
<rect x="190" y="633" width="3" height="1" fill="#c0c0c0"/>
<rect x="196" y="633" width="3" height="1" fill="#c0c0c0"/>
<rect x="202" y="633" width="3" height="1" fill="#c0c0c0"/>
<rect x="208" y="633" width="3" height="1" fill="#c0c0c0"/>
<rect x="214" y="633" width="3" height="1" fill="#c0c0c0"/>
<rect x="220" y="633" width="3" height="1" fill="#c0c0c0"/>
<rect x="226" y="633" width="3" height="1" fill="#c0c0c0"/>
<rect x="232" y="633" width="3" height="1" fill="#c0c0c0"/>
<rect x="238" y="633" width="3" height="1" fill="#c0c0c0"/>
<rect x="244" y="633" width="3" height="1" fill="#c0c0c0"/>
<rect x="250" y="633" width="3" height="1" fill="#c0c0c0"/>
<rect x="256" y="633" width="3" height="1" fill="#c0c0c0"/>
<rect x="262" y="633" width="3" height="1" fill="#c0c0c0"/>
<rect x="268" y="633" width="3" height="1" fill="#c0c0c0"/>
<rect x="274" y="633" width="3" height="1" fill="#c0c0c0"/>
<rect x="280" y="633" width="3" height="1" fill="#c0c0c0"/>
<rect x="286" y="633" width="3" height="1" fill="#c0c0c0"/>
<rect x="292" y="633" width="3" height="1" fill="#c0c0c0"/>
<rect x="298" y="633" width="3" height="1" fill="#c0c0c0"/>
<rect x="304" y="633" width="3" height="1" fill="#c0c0c0"/>
<rect x="310" y="633" width="3" height="1" fill="#c0c0c0"/>
<rect x="316" y="633" width="3" height="1" fill="#c0c0c0"/>
<rect x="322" y="633" width="3" height="1" fill="#c0c0c0"/>
<rect x="328" y="633" width="3" height="1" fill="#c0c0c0"/>
<rect x="334" y="633" width="3" height="1" fill="#c0c0c0"/>
<rect x="340" y="633" width="3" height="1" fill="#c0c0c0"/>
<rect x="346" y="633" width="3" height="1" fill="#c0c0c0"/>
<rect x="352" y="633" width="3" height="1" fill="#c0c0c0"/>
<rect x="358" y="633" width="3" height="1" fill="#c0c0c0"/>
<rect x="364" y="633" width="3" height="1" fill="#c0c0c0"/>
<rect x="370" y="633" width="3" height="1" fill="#c0c0c0"/>
<rect x="376" y="633" width="3" height="1" fill="#c0c0c0"/>
<rect x="382" y="633" width="3" height="1" fill="#c0c0c0"/>
<rect x="388" y="633" width="3" height="1" fill="#c0c0c0"/>
<rect x="394" y="633" width="3" height="1" fill="#c0c0c0"/>
<rect x="400" y="633" width="3" height="1" fill="#c0c0c0"/>
<rect x="406" y="633" width="3" height="1" fill="#c0c0c0"/>
<rect x="412" y="633" width="3" height="1" fill="#c0c0c0"/>
<rect x="418" y="633" width="3" height="1" fill="#c0c0c0"/>
<rect x="424" y="633" width="3" height="1" fill="#c0c0c0"/>
<rect x="430" y="633" width="3" height="1" fill="#c0c0c0"/>
<rect x="436" y="633" width="3" height="1" fill="#c0c0c0"/>
<rect x="442" y="633" width="3" height="1" fill="#c0c0c0"/>
<rect x="448" y="633" width="3" height="1" fill="#c0c0c0"/>
<rect x="454" y="633" width="3" height="1" fill="#c0c0c0"/>
<rect x="460" y="633" width="3" height="1" fill="#c0c0c0"/>
<rect x="466" y="633" width="3" height="1" fill="#c0c0c0"/>
<rect x="472" y="633" width="3" height="1" fill="#c0c0c0"/>
<rect x="478" y="633" width="3" height="1" fill="#c0c0c0"/>
<rect x="484" y="633" width="3" height="1" fill="#c0c0c0"/>
<rect x="490" y="633" width="3" height="1" fill="#c0c0c0"/>
<rect x="496" y="633" width="3" height="1" fill="#c0c0c0"/>
<rect x="502" y="633" width="3" height="1" fill="#c0c0c0"/>
<rect x="508" y="633" width="3" height="1" fill="#c0c0c0"/>
<rect x="514" y="633" width="3" height="1" fill="#c0c0c0"/>
<rect x="520" y="633" width="3" height="1" fill="#c0c0c0"/>
<rect x="526" y="633" width="3" height="1" fill="#c0c0c0"/>
<rect x="532" y="633" width="3" height="1" fill="#c0c0c0"/>
<rect x="538" y="633" width="3" height="1" fill="#c0c0c0"/>
<rect x="544" y="633" width="3" height="1" fill="#c0c0c0"/>
<rect x="550" y="633" width="3" height="1" fill="#c0c0c0"/>
<rect x="556" y="633" width="3" height="1" fill="#c0c0c0"/>
<rect x="562" y="633" width="3" height="1" fill="#c0c0c0"/>
<rect x="568" y="633" width="3" height="1" fill="#c0c0c0"/>
<rect x="574" y="633" width="3" height="1" fill="#c0c0c0"/>
<rect x="580" y="633" width="3" height="1" fill="#c0c0c0"/>
<rect x="586" y="633" width="3" height="1" fill="#c0c0c0"/>
<rect x="592" y="633" width="3" height="1" fill="#c0c0c0"/>
<rect x="598" y="633" width="3" height="1" fill="#c0c0c0"/>
<rect x="604" y="633" width="3" height="1" fill="#c0c0c0"/>
<rect x="610" y="633" width="3" height="1" fill="#c0c0c0"/>
<rect x="616" y="633" width="3" height="1" fill="#c0c0c0"/>
<rect x="622" y="633" width="3" height="1" fill="#c0c0c0"/>
<rect x="628" y="633" width="3" height="1" fill="#c0c0c0"/>
<rect x="634" y="633" width="3" height="1" fill="#c0c0c0"/>
<rect x="640" y="633" width="3" height="1" fill="#c0c0c0"/>
<rect x="646" y="633" width="3" height="1" fill="#c0c0c0"/>
<rect x="652" y="633" width="3" height="1" fill="#c0c0c0"/>
<rect x="658" y="633" width="3" height="1" fill="#c0c0c0"/>
<rect x="664" y="633" width="3" height="1" fill="#c0c0c0"/>
<rect x="670" y="633" width="3" height="1" fill="#c0c0c0"/>
<rect x="676" y="633" width="3" height="1" fill="#c0c0c0"/>
<rect x="682" y="633" width="3" height="1" fill="#c0c0c0"/>
<rect x="688" y="633" width="3" height="1" fill="#c0c0c0"/>
<rect x="694" y="633" width="3" height="1" fill="#c0c0c0"/>
<rect x="700" y="633" width="3" height="1" fill="#c0c0c0"/>
<rect x="706" y="633" width="3" height="1" fill="#c0c0c0"/>
<rect x="712" y="633" width="3" height="1" fill="#c0c0c0"/>
<rect x="718" y="633" width="3" height="1" fill="#c0c0c0"/>
<rect x="724" y="633" width="3" height="1" fill="#c0c0c0"/>
<rect x="730" y="633" width="3" height="1" fill="#c0c0c0"/>
<rect x="736" y="633" width="3" height="1" fill="#c0c0c0"/>
<rect x="742" y="633" width="3" height="1" fill="#c0c0c0"/>
<rect x="748" y="633" width="3" height="1" fill="#c0c0c0"/>
<rect x="754" y="633" width="3" height="1" fill="#c0c0c0"/>
<rect x="760" y="633" width="3" height="1" fill="#c0c0c0"/>
<rect x="766" y="633" width="3" height="1" fill="#c0c0c0"/>
<rect x="772" y="633" width="3" height="1" fill="#c0c0c0"/>
<rect x="778" y="633" width="3" height="1" fill="#c0c0c0"/>
<rect x="784" y="633" width="3" height="1" fill="#c0c0c0"/>
<rect x="790" y="633" width="3" height="1" fill="#c0c0c0"/>
<rect x="796" y="633" width="3" height="1" fill="#c0c0c0"/>
<rect x="802" y="633" width="3" height="1" fill="#c0c0c0"/>
<rect x="808" y="633" width="3" height="1" fill="#c0c0c0"/>
<rect x="814" y="633" width="3" height="1" fill="#c0c0c0"/>
<rect x="820" y="633" width="3" height="1" fill="#c0c0c0"/>
<rect x="826" y="633" width="3" height="1" fill="#c0c0c0"/>
<rect x="832" y="633" width="3" height="1" fill="#c0c0c0"/>
<rect x="838" y="633" width="3" height="1" fill="#c0c0c0"/>
<rect x="844" y="633" width="3" height="1" fill="#c0c0c0"/>
<rect x="850" y="633" width="3" height="1" fill="#c0c0c0"/>
<rect x="856" y="633" width="3" height="1" fill="#c0c0c0"/>
<rect x="862" y="633" width="3" height="1" fill="#c0c0c0"/>
<rect x="868" y="633" width="3" height="1" fill="#c0c0c0"/>
<rect x="874" y="633" width="3" height="1" fill="#c0c0c0"/>
<rect x="880" y="633" width="3" height="1" fill="#c0c0c0"/>
<rect x="886" y="633" width="3" height="1" fill="#c0c0c0"/>
<rect x="892" y="633" width="3" height="1" fill="#c0c0c0"/>
<rect x="898" y="633" width="3" height="1" fill="#c0c0c0"/>
<rect x="904" y="633" width="3" height="1" fill="#c0c0c0"/>
<rect x="910" y="633" width="3" height="1" fill="#c0c0c0"/>
<rect x="916" y="633" width="3" height="1" fill="#c0c0c0"/>
<rect x="922" y="633" width="3" height="1" fill="#c0c0c0"/>
<rect x="928" y="633" width="3" height="1" fill="#c0c0c0"/>
<rect x="934" y="633" width="3" height="1" fill="#c0c0c0"/>
<rect x="940" y="633" width="3" height="1" fill="#c0c0c0"/>
<rect x="946" y="633" width="3" height="1" fill="#c0c0c0"/>
<rect x="952" y="633" width="3" height="1" fill="#c0c0c0"/>
<rect x="958" y="633" width="3" height="1" fill="#c0c0c0"/>
<rect x="964" y="633" width="3" height="1" fill="#c0c0c0"/>
<rect x="970" y="633" width="3" height="1" fill="#c0c0c0"/>
<rect x="976" y="633" width="3" height="1" fill="#c0c0c0"/>
<rect x="982" y="633" width="3" height="1" fill="#c0c0c0"/>
<rect x="988" y="633" width="3" height="1" fill="#c0c0c0"/>
<rect x="994" y="633" width="3" height="1" fill="#c0c0c0"/>
<rect x="1000" y="633" width="3" height="1" fill="#c0c0c0"/>
<rect x="1006" y="633" width="3" height="1" fill="#c0c0c0"/>
<rect x="1012" y="633" width="3" height="1" fill="#c0c0c0"/>
<rect x="1018" y="633" width="3" height="1" fill="#c0c0c0"/>
<rect x="1024" y="633" width="3" height="1" fill="#c0c0c0"/>
<rect x="1030" y="633" width="3" height="1" fill="#c0c0c0"/>
<rect x="1036" y="633" width="3" height="1" fill="#c0c0c0"/>
<rect x="1042" y="633" width="3" height="1" fill="#c0c0c0"/>
<rect x="1048" y="633" width="3" height="1" fill="#c0c0c0"/>
<rect x="1054" y="633" width="3" height="1" fill="#c0c0c0"/>
<rect x="1060" y="633" width="3" height="1" fill="#c0c0c0"/>
<rect x="1066" y="633" width="3" height="1" fill="#c0c0c0"/>
<rect x="1072" y="633" width="3" height="1" fill="#c0c0c0"/>
<rect x="1078" y="633" width="3" height="1" fill="#c0c0c0"/>
<rect x="1084" y="633" width="3" height="1" fill="#c0c0c0"/>
<rect x="1090" y="633" width="3" height="1" fill="#c0c0c0"/>
<rect x="1096" y="633" width="3" height="1" fill="#c0c0c0"/>
<rect x="1102" y="633" width="3" height="1" fill="#c0c0c0"/>
<rect x="1108" y="633" width="3" height="1" fill="#c0c0c0"/>
<rect x="1114" y="633" width="3" height="1" fill="#c0c0c0"/>
<rect x="1120" y="633" width="3" height="1" fill="#c0c0c0"/>
<rect x="1126" y="633" width="3" height="1" fill="#c0c0c0"/>
<rect x="1132" y="633" width="3" height="1" fill="#c0c0c0"/>
<rect x="1138" y="633" width="3" height="1" fill="#c0c0c0"/>
<rect x="1144" y="633" width="3" height="1" fill="#c0c0c0"/>
<rect x="1150" y="633" width="3" height="1" fill="#c0c0c0"/>
<rect x="1156" y="633" width="3" height="1" fill="#c0c0c0"/>
<rect x="1162" y="633" width="3" height="1" fill="#c0c0c0"/>
<path fill="#1e90ff" d="M581 599h3v1h-3zM871 599h1v1h-1zM507 600h1v1h-1zM579 600h2v1h-2zM584 600h1v1h-1zM869 600h2v1h-2zM872 600h1v1h-1zM506 601h1v1h-1zM508 601h1v1h-1zM578 601h1v1h-1zM585 601h1v1h-1zM590 601h3v1h-3zM868 601h1v1h-1zM873 601h1v1h-1zM505 602h1v1h-1zM508 602h1v1h-1zM577 602h1v1h-1zM586 602h1v1h-1zM588 602h2v1h-2zM593 602h7v1h-7zM866 602h2v1h-2zM874 602h1v1h-1zM505 603h1v1h-1zM509 603h1v1h-1zM567 603h1v1h-1zM577 603h1v1h-1zM587 603h1v1h-1zM600 603h1v1h-1zM864 603h2v1h-2zM875 603h5v1h-5zM504 604h1v1h-1zM509 604h1v1h-1zM566 604h1v1h-1zM568 604h2v1h-2zM576 604h1v1h-1zM600 604h1v1h-1zM857 604h7v1h-7zM880 604h1v1h-1zM905 604h4v1h-4zM499 605h5v1h-5zM510 605h1v1h-1zM565 605h1v1h-1zM570 605h6v1h-6zM601 605h1v1h-1zM855 605h2v1h-2zM881 605h1v1h-1zM902 605h3v1h-3zM909 605h3v1h-3zM499 606h1v1h-1zM510 606h1v1h-1zM565 606h1v1h-1zM602 606h1v1h-1zM855 606h1v1h-1zM881 606h1v1h-1zM900 606h2v1h-2zM912 606h1v1h-1zM919 606h5v1h-5zM498 607h1v1h-1zM511 607h1v1h-1zM564 607h1v1h-1zM602 607h1v1h-1zM854 607h1v1h-1zM882 607h1v1h-1zM894 607h6v1h-6zM913 607h1v1h-1zM918 607h1v1h-1zM498 608h1v1h-1zM512 608h2v1h-2zM563 608h1v1h-1zM603 608h1v1h-1zM615 608h2v1h-2zM854 608h1v1h-1zM883 608h6v1h-6zM892 608h2v1h-2zM913 608h1v1h-1zM917 608h1v1h-1zM479 609h1v1h-1zM497 609h1v1h-1zM514 609h2v1h-2zM561 609h2v1h-2zM604 609h1v1h-1zM614 609h1v1h-1zM617 609h7v1h-7zM854 609h1v1h-1zM889 609h3v1h-3zM914 609h1v1h-1zM916 609h1v1h-1zM477 610h2v1h-2zM480 610h1v1h-1zM497 610h1v1h-1zM516 610h1v1h-1zM546 610h2v1h-2zM560 610h1v1h-1zM604 610h1v1h-1zM613 610h1v1h-1zM624 610h1v1h-1zM854 610h1v1h-1zM915 610h1v1h-1zM476 611h1v1h-1zM481 611h1v1h-1zM496 611h1v1h-1zM516 611h1v1h-1zM537 611h4v1h-4zM544 611h2v1h-2zM548 611h2v1h-2zM558 611h2v1h-2zM605 611h1v1h-1zM612 611h1v1h-1zM625 611h2v1h-2zM853 611h1v1h-1zM458 612h2v1h-2zM474 612h2v1h-2zM481 612h1v1h-1zM486 612h2v1h-2zM496 612h1v1h-1zM517 612h1v1h-1zM523 612h2v1h-2zM529 612h8v1h-8zM541 612h3v1h-3zM550 612h3v1h-3zM556 612h2v1h-2zM606 612h1v1h-1zM610 612h2v1h-2zM627 612h1v1h-1zM853 612h1v1h-1zM447 613h1v1h-1zM456 613h2v1h-2zM460 613h2v1h-2zM472 613h2v1h-2zM482 613h1v1h-1zM484 613h2v1h-2zM488 613h2v1h-2zM493 613h3v1h-3zM518 613h1v1h-1zM521 613h2v1h-2zM525 613h4v1h-4zM553 613h3v1h-3zM606 613h1v1h-1zM608 613h2v1h-2zM628 613h2v1h-2zM853 613h1v1h-1zM63 614h1v1h-1zM358 614h2v1h-2zM446 614h1v1h-1zM448 614h2v1h-2zM453 614h3v1h-3zM462 614h2v1h-2zM470 614h2v1h-2zM483 614h1v1h-1zM490 614h3v1h-3zM518 614h1v1h-1zM520 614h1v1h-1zM607 614h1v1h-1zM630 614h2v1h-2zM853 614h1v1h-1zM62 615h1v1h-1zM64 615h2v1h-2zM339 615h1v1h-1zM356 615h2v1h-2zM360 615h2v1h-2zM371 615h1v1h-1zM445 615h1v1h-1zM450 615h3v1h-3zM464 615h2v1h-2zM468 615h2v1h-2zM519 615h1v1h-1zM632 615h1v1h-1zM846 615h2v1h-2zM852 615h1v1h-1zM61 616h1v1h-1zM66 616h2v1h-2zM338 616h1v1h-1zM340 616h1v1h-1zM355 616h1v1h-1zM362 616h2v1h-2zM370 616h1v1h-1zM372 616h1v1h-1zM445 616h1v1h-1zM466 616h2v1h-2zM632 616h1v1h-1zM844 616h2v1h-2zM848 616h1v1h-1zM852 616h1v1h-1zM61 617h1v1h-1zM68 617h1v1h-1zM337 617h1v1h-1zM340 617h1v1h-1zM354 617h1v1h-1zM364 617h1v1h-1zM370 617h1v1h-1zM373 617h1v1h-1zM387 617h1v1h-1zM399 617h1v1h-1zM444 617h1v1h-1zM633 617h1v1h-1zM843 617h1v1h-1zM849 617h1v1h-1zM852 617h1v1h-1zM60 618h1v1h-1zM69 618h1v1h-1zM251 618h1v1h-1zM267 618h1v1h-1zM336 618h1v1h-1zM341 618h1v1h-1zM354 618h1v1h-1zM365 618h1v1h-1zM369 618h1v1h-1zM374 618h1v1h-1zM386 618h1v1h-1zM388 618h1v1h-1zM397 618h2v1h-2zM400 618h1v1h-1zM443 618h1v1h-1zM634 618h1v1h-1zM842 618h1v1h-1zM849 618h1v1h-1zM852 618h1v1h-1zM55 619h5v1h-5zM70 619h1v1h-1zM249 619h2v1h-2zM252 619h1v1h-1zM266 619h1v1h-1zM268 619h1v1h-1zM333 619h3v1h-3zM342 619h1v1h-1zM353 619h1v1h-1zM365 619h1v1h-1zM368 619h1v1h-1zM375 619h1v1h-1zM386 619h1v1h-1zM389 619h2v1h-2zM396 619h1v1h-1zM401 619h2v1h-2zM442 619h1v1h-1zM634 619h1v1h-1zM835 619h1v1h-1zM841 619h1v1h-1zM850 619h2v1h-2zM55 620h1v1h-1zM71 620h6v1h-6zM248 620h1v1h-1zM253 620h2v1h-2zM266 620h1v1h-1zM269 620h1v1h-1zM331 620h2v1h-2zM342 620h1v1h-1zM352 620h1v1h-1zM366 620h1v1h-1zM368 620h1v1h-1zM376 620h1v1h-1zM385 620h1v1h-1zM391 620h5v1h-5zM403 620h5v1h-5zM442 620h1v1h-1zM635 620h5v1h-5zM646 620h2v1h-2zM823 620h1v1h-1zM834 620h1v1h-1zM836 620h2v1h-2zM840 620h1v1h-1zM851 620h1v1h-1zM9 621h3v1h-3zM54 621h1v1h-1zM77 621h3v1h-3zM247 621h1v1h-1zM255 621h1v1h-1zM265 621h1v1h-1zM270 621h1v1h-1zM329 621h2v1h-2zM343 621h1v1h-1zM352 621h1v1h-1zM367 621h1v1h-1zM376 621h1v1h-1zM384 621h1v1h-1zM408 621h1v1h-1zM441 621h1v1h-1zM640 621h2v1h-2zM644 621h2v1h-2zM648 621h1v1h-1zM822 621h1v1h-1zM824 621h1v1h-1zM833 621h1v1h-1zM838 621h2v1h-2zM7 622h2v1h-2zM12 622h1v1h-1zM54 622h1v1h-1zM80 622h2v1h-2zM154 622h2v1h-2zM174 622h2v1h-2zM246 622h1v1h-1zM256 622h1v1h-1zM265 622h1v1h-1zM271 622h1v1h-1zM315 622h1v1h-1zM328 622h1v1h-1zM344 622h1v1h-1zM350 622h2v1h-2zM377 622h1v1h-1zM384 622h1v1h-1zM409 622h1v1h-1zM440 622h1v1h-1zM642 622h2v1h-2zM649 622h1v1h-1zM731 622h5v1h-5zM821 622h1v1h-1zM825 622h1v1h-1zM832 622h1v1h-1zM7 623h1v1h-1zM13 623h1v1h-1zM53 623h1v1h-1zM82 623h2v1h-2zM152 623h2v1h-2zM156 623h2v1h-2zM172 623h2v1h-2zM176 623h1v1h-1zM245 623h1v1h-1zM257 623h1v1h-1zM264 623h1v1h-1zM272 623h1v1h-1zM314 623h1v1h-1zM316 623h1v1h-1zM326 623h2v1h-2zM345 623h2v1h-2zM348 623h2v1h-2zM378 623h1v1h-1zM382 623h2v1h-2zM410 623h1v1h-1zM440 623h1v1h-1zM649 623h1v1h-1zM705 623h3v1h-3zM731 623h1v1h-1zM736 623h1v1h-1zM746 623h2v1h-2zM762 623h6v1h-6zM807 623h2v1h-2zM820 623h1v1h-1zM826 623h1v1h-1zM829 623h3v1h-3zM6 624h1v1h-1zM13 624h1v1h-1zM18 624h2v1h-2zM53 624h1v1h-1zM84 624h1v1h-1zM151 624h1v1h-1zM158 624h2v1h-2zM169 624h3v1h-3zM177 624h1v1h-1zM211 624h10v1h-10zM245 624h1v1h-1zM257 624h1v1h-1zM264 624h1v1h-1zM273 624h1v1h-1zM313 624h1v1h-1zM317 624h1v1h-1zM324 624h2v1h-2zM347 624h1v1h-1zM378 624h1v1h-1zM380 624h2v1h-2zM411 624h1v1h-1zM439 624h1v1h-1zM650 624h1v1h-1zM703 624h2v1h-2zM708 624h1v1h-1zM730 624h1v1h-1zM737 624h2v1h-2zM744 624h2v1h-2zM748 624h1v1h-1zM760 624h2v1h-2zM768 624h1v1h-1zM806 624h1v1h-1zM809 624h11v1h-11zM827 624h2v1h-2zM6 625h1v1h-1zM14 625h1v1h-1zM16 625h2v1h-2zM20 625h1v1h-1zM52 625h1v1h-1zM85 625h1v1h-1zM111 625h1v1h-1zM150 625h1v1h-1zM160 625h2v1h-2zM165 625h4v1h-4zM178 625h1v1h-1zM210 625h1v1h-1zM221 625h3v1h-3zM244 625h1v1h-1zM258 625h1v1h-1zM261 625h3v1h-3zM273 625h1v1h-1zM313 625h1v1h-1zM318 625h1v1h-1zM321 625h3v1h-3zM379 625h1v1h-1zM412 625h1v1h-1zM418 625h2v1h-2zM438 625h1v1h-1zM651 625h1v1h-1zM702 625h1v1h-1zM708 625h1v1h-1zM730 625h1v1h-1zM739 625h5v1h-5zM749 625h1v1h-1zM758 625h2v1h-2zM768 625h1v1h-1zM806 625h1v1h-1zM6 626h1v1h-1zM15 626h1v1h-1zM21 626h2v1h-2zM52 626h1v1h-1zM85 626h1v1h-1zM110 626h1v1h-1zM112 626h2v1h-2zM117 626h4v1h-4zM150 626h1v1h-1zM162 626h3v1h-3zM179 626h2v1h-2zM209 626h1v1h-1zM224 626h2v1h-2zM242 626h2v1h-2zM259 626h2v1h-2zM274 626h1v1h-1zM303 626h1v1h-1zM312 626h1v1h-1zM319 626h2v1h-2zM413 626h2v1h-2zM416 626h2v1h-2zM420 626h2v1h-2zM425 626h7v1h-7zM437 626h1v1h-1zM652 626h1v1h-1zM702 626h1v1h-1zM709 626h1v1h-1zM730 626h1v1h-1zM749 626h1v1h-1zM756 626h2v1h-2zM769 626h1v1h-1zM805 626h1v1h-1zM5 627h1v1h-1zM23 627h5v1h-5zM43 627h9v1h-9zM86 627h1v1h-1zM103 627h1v1h-1zM109 627h1v1h-1zM114 627h3v1h-3zM121 627h3v1h-3zM149 627h1v1h-1zM181 627h3v1h-3zM209 627h1v1h-1zM226 627h2v1h-2zM240 627h2v1h-2zM275 627h2v1h-2zM281 627h7v1h-7zM302 627h1v1h-1zM304 627h1v1h-1zM310 627h2v1h-2zM415 627h1v1h-1zM422 627h3v1h-3zM432 627h1v1h-1zM437 627h1v1h-1zM653 627h2v1h-2zM701 627h1v1h-1zM709 627h1v1h-1zM729 627h1v1h-1zM750 627h1v1h-1zM753 627h3v1h-3zM770 627h1v1h-1zM805 627h1v1h-1zM5 628h1v1h-1zM28 628h2v1h-2zM42 628h1v1h-1zM87 628h1v1h-1zM103 628h3v1h-3zM108 628h1v1h-1zM124 628h1v1h-1zM139 628h1v1h-1zM148 628h1v1h-1zM184 628h2v1h-2zM208 628h1v1h-1zM228 628h1v1h-1zM234 628h6v1h-6zM277 628h4v1h-4zM288 628h1v1h-1zM302 628h1v1h-1zM305 628h2v1h-2zM308 628h2v1h-2zM433 628h2v1h-2zM436 628h1v1h-1zM655 628h1v1h-1zM701 628h1v1h-1zM710 628h1v1h-1zM729 628h1v1h-1zM751 628h2v1h-2zM770 628h1v1h-1zM804 628h1v1h-1zM4 629h1v1h-1zM30 629h2v1h-2zM42 629h1v1h-1zM88 629h1v1h-1zM102 629h1v1h-1zM106 629h2v1h-2zM125 629h1v1h-1zM138 629h1v1h-1zM140 629h2v1h-2zM148 629h1v1h-1zM186 629h2v1h-2zM206 629h2v1h-2zM229 629h2v1h-2zM232 629h2v1h-2zM288 629h1v1h-1zM301 629h1v1h-1zM307 629h1v1h-1zM435 629h1v1h-1zM656 629h2v1h-2zM700 629h1v1h-1zM710 629h1v1h-1zM728 629h1v1h-1zM771 629h2v1h-2zM804 629h1v1h-1zM4 630h1v1h-1zM32 630h2v1h-2zM41 630h1v1h-1zM89 630h1v1h-1zM102 630h1v1h-1zM126 630h1v1h-1zM137 630h1v1h-1zM142 630h6v1h-6zM188 630h1v1h-1zM204 630h2v1h-2zM231 630h1v1h-1zM289 630h1v1h-1zM301 630h1v1h-1zM658 630h14v1h-14zM700 630h1v1h-1zM711 630h1v1h-1zM728 630h1v1h-1zM773 630h3v1h-3zM799 630h5v1h-5zM4 631h1v1h-1zM34 631h2v1h-2zM40 631h1v1h-1zM89 631h1v1h-1zM101 631h1v1h-1zM127 631h1v1h-1zM136 631h1v1h-1zM189 631h1v1h-1zM198 631h6v1h-6zM289 631h1v1h-1zM300 631h1v1h-1zM672 631h1v1h-1zM697 631h3v1h-3zM711 631h1v1h-1zM728 631h1v1h-1zM776 631h1v1h-1zM798 631h1v1h-1zM3 632h1v1h-1zM36 632h2v1h-2zM40 632h1v1h-1zM90 632h1v1h-1zM101 632h1v1h-1zM128 632h2v1h-2zM133 632h3v1h-3zM190 632h1v1h-1zM196 632h2v1h-2zM290 632h1v1h-1zM300 632h1v1h-1zM673 632h1v1h-1zM679 632h2v1h-2zM693 632h4v1h-4zM712 632h1v1h-1zM727 632h1v1h-1zM777 632h1v1h-1zM797 632h1v1h-1zM3 633h1v1h-1zM38 633h2v1h-2zM91 633h1v1h-1zM100 633h1v1h-1zM130 633h3v1h-3zM191 633h5v1h-5zM290 633h1v1h-1zM299 633h1v1h-1zM673 633h1v1h-1zM677 633h2v1h-2zM681 633h3v1h-3zM691 633h2v1h-2zM712 633h1v1h-1zM727 633h1v1h-1zM778 633h1v1h-1zM797 633h1v1h-1zM92 634h2v1h-2zM100 634h1v1h-1zM291 634h1v1h-1zM298 634h1v1h-1zM674 634h1v1h-1zM676 634h1v1h-1zM684 634h1v1h-1zM689 634h2v1h-2zM713 634h1v1h-1zM726 634h1v1h-1zM779 634h1v1h-1zM796 634h1v1h-1zM94 635h6v1h-6zM291 635h1v1h-1zM297 635h1v1h-1zM675 635h1v1h-1zM685 635h2v1h-2zM688 635h1v1h-1zM713 635h1v1h-1zM726 635h1v1h-1zM780 635h2v1h-2zM795 635h1v1h-1zM292 636h2v1h-2zM296 636h1v1h-1zM687 636h1v1h-1zM714 636h1v1h-1zM725 636h1v1h-1zM782 636h3v1h-3zM793 636h2v1h-2zM294 637h2v1h-2zM714 637h1v1h-1zM725 637h1v1h-1zM785 637h4v1h-4zM792 637h1v1h-1zM715 638h1v1h-1zM724 638h1v1h-1zM789 638h3v1h-3zM715 639h6v1h-6zM724 639h1v1h-1zM721 640h3v1h-3z"/>
<text x="7.5" y="585" font-size="9.3" fill="#000" textLength="67" lengthAdjust="spacingAndGlyphs">RSI(14) 62.0297</text>
<text x="1169" y="584" font-size="9.3" fill="#000" textLength="15" lengthAdjust="spacingAndGlyphs">100</text>
<text x="1169" y="603" font-size="9.3" fill="#000" textLength="10" lengthAdjust="spacingAndGlyphs">70</text>
<text x="1169" y="637" font-size="9.3" fill="#000" textLength="10" lengthAdjust="spacingAndGlyphs">30</text>
<text x="1169" y="656" font-size="9.3" fill="#000" textLength="5" lengthAdjust="spacingAndGlyphs">0</text>
<rect x="1166" y="573" width="2" height="1" fill="#000"/>
<rect x="1166" y="658" width="2" height="1" fill="#000"/>
<rect x="3" y="660" width="1" height="3" fill="#000"/>
<text x="2.2" y="672" font-size="9.3" fill="#000" textLength="50.9" lengthAdjust="spacingAndGlyphs">10 Oct 2020</text>
<rect x="67" y="660" width="1" height="3" fill="#000"/>
<text x="66.2" y="672" font-size="9.3" fill="#000" textLength="50.9" lengthAdjust="spacingAndGlyphs">29 Oct 2020</text>
<rect x="131" y="660" width="1" height="3" fill="#000"/>
<text x="130.2" y="672" font-size="9.3" fill="#000" textLength="53.0" lengthAdjust="spacingAndGlyphs">17 Nov 2020</text>
<rect x="195" y="660" width="1" height="3" fill="#000"/>
<text x="194.2" y="672" font-size="9.3" fill="#000" textLength="47.8" lengthAdjust="spacingAndGlyphs">5 Dec 2020</text>
<rect x="259" y="660" width="1" height="3" fill="#000"/>
<text x="258.2" y="672" font-size="9.3" fill="#000" textLength="53.0" lengthAdjust="spacingAndGlyphs">24 Dec 2020</text>
<rect x="323" y="660" width="1" height="3" fill="#000"/>
<text x="322.2" y="672" font-size="9.3" fill="#000" textLength="51.5" lengthAdjust="spacingAndGlyphs">13 Jan 2021</text>
<rect x="387" y="660" width="1" height="3" fill="#000"/>
<text x="386.2" y="672" font-size="9.3" fill="#000" textLength="47.3" lengthAdjust="spacingAndGlyphs">1 Feb 2021</text>
<rect x="451" y="660" width="1" height="3" fill="#000"/>
<text x="450.2" y="672" font-size="9.3" fill="#000" textLength="52.5" lengthAdjust="spacingAndGlyphs">19 Feb 2021</text>
<rect x="515" y="660" width="1" height="3" fill="#000"/>
<text x="514.2" y="672" font-size="9.3" fill="#000" textLength="52.5" lengthAdjust="spacingAndGlyphs">10 Mar 2021</text>
<rect x="579" y="660" width="1" height="3" fill="#000"/>
<text x="578.2" y="672" font-size="9.3" fill="#000" textLength="52.5" lengthAdjust="spacingAndGlyphs">29 Mar 2021</text>
<rect x="643" y="660" width="1" height="3" fill="#000"/>
<text x="642.2" y="672" font-size="9.3" fill="#000" textLength="50.4" lengthAdjust="spacingAndGlyphs">16 Apr 2021</text>
<rect x="707" y="660" width="1" height="3" fill="#000"/>
<text x="706.2" y="672" font-size="9.3" fill="#000" textLength="48.9" lengthAdjust="spacingAndGlyphs">5 May 2021</text>
<rect x="771" y="660" width="1" height="3" fill="#000"/>
<text x="770.2" y="672" font-size="9.3" fill="#000" textLength="54.1" lengthAdjust="spacingAndGlyphs">24 May 2021</text>
<rect x="835" y="660" width="1" height="3" fill="#000"/>
<text x="834.2" y="672" font-size="9.3" fill="#000" textLength="50.8" lengthAdjust="spacingAndGlyphs">11 Jun 2021</text>
<rect x="899" y="660" width="1" height="3" fill="#000"/>
<text x="898.2" y="672" font-size="9.3" fill="#000" textLength="51.5" lengthAdjust="spacingAndGlyphs">30 Jun 2021</text>
<rect x="0" y="680" width="1207" height="1" fill="#e3e3e3"/>
<rect x="0" y="681" width="1207" height="1" fill="#ffffff"/>
<rect x="0" y="682" width="1207" height="1" fill="#000000"/>
<rect x="0" y="683" width="1207" height="1" fill="#ffffff"/>
<rect x="0" y="684" width="1207" height="18" fill="#f0f0f0"/>
<rect x="0" y="702" width="1207" height="1" fill="#ffffff"/>
<rect x="0" y="703" width="1207" height="1" fill="#f0f0f0"/>
<rect x="380" y="682" width="104" height="19" fill="#000"/>
<rect x="381" y="682" width="102" height="18" fill="#ffffff"/>
<text x="16.6" y="697" font-size="12" fill="#6d6d6d" textLength="67.2" lengthAdjust="spacingAndGlyphs">EURUSD,H4</text>
<text x="107" y="697" font-size="12" fill="#6d6d6d" textLength="81.9" lengthAdjust="spacingAndGlyphs">AUDUSD,Daily</text>
<text x="210.8" y="697" font-size="12" fill="#6d6d6d" textLength="65.9" lengthAdjust="spacingAndGlyphs">USDCHF,H4</text>
<text x="299.3" y="697" font-size="12" fill="#6d6d6d" textLength="68.6" lengthAdjust="spacingAndGlyphs">USDCAD,H4</text>
<text x="496.8" y="697" font-size="12" fill="#6d6d6d" textLength="51.2" lengthAdjust="spacingAndGlyphs">UKOil,H4</text>
<text x="570.6" y="697" font-size="12" fill="#6d6d6d" textLength="46.7" lengthAdjust="spacingAndGlyphs">DJ30,H1</text>
<text x="640.2" y="697" font-size="12" fill="#6d6d6d" textLength="51.8" lengthAdjust="spacingAndGlyphs">USDX,H1</text>
<text x="714.7" y="697" font-size="12" fill="#6d6d6d" textLength="68.9" lengthAdjust="spacingAndGlyphs">XAUUSD,H4</text>
<text x="808.8" y="697" font-size="12" fill="#6d6d6d" textLength="78.9" lengthAdjust="spacingAndGlyphs">GBPUSD,Daily</text>
<text x="390.2" y="697" font-size="12" fill="#000" textLength="82.8" lengthAdjust="spacingAndGlyphs">USDCNH,Daily</text>
<rect x="96" y="685" width="1" height="14" fill="#606060"/>
<rect x="200" y="685" width="1" height="14" fill="#606060"/>
<rect x="289" y="685" width="1" height="14" fill="#606060"/>
<rect x="561" y="685" width="1" height="14" fill="#606060"/>
<rect x="628" y="685" width="1" height="14" fill="#606060"/>
<rect x="704" y="685" width="1" height="14" fill="#606060"/>
<rect x="796" y="685" width="1" height="14" fill="#606060"/>
<rect x="900" y="685" width="1" height="14" fill="#606060"/>
<polygon points="1184,688 1184,695 1181,691.5" fill="#8c8c8c" shape-rendering="auto"/>
<polygon points="1200,688 1200,695 1203,691.5" fill="#8c8c8c" shape-rendering="auto"/>
</svg>
</body></html>
